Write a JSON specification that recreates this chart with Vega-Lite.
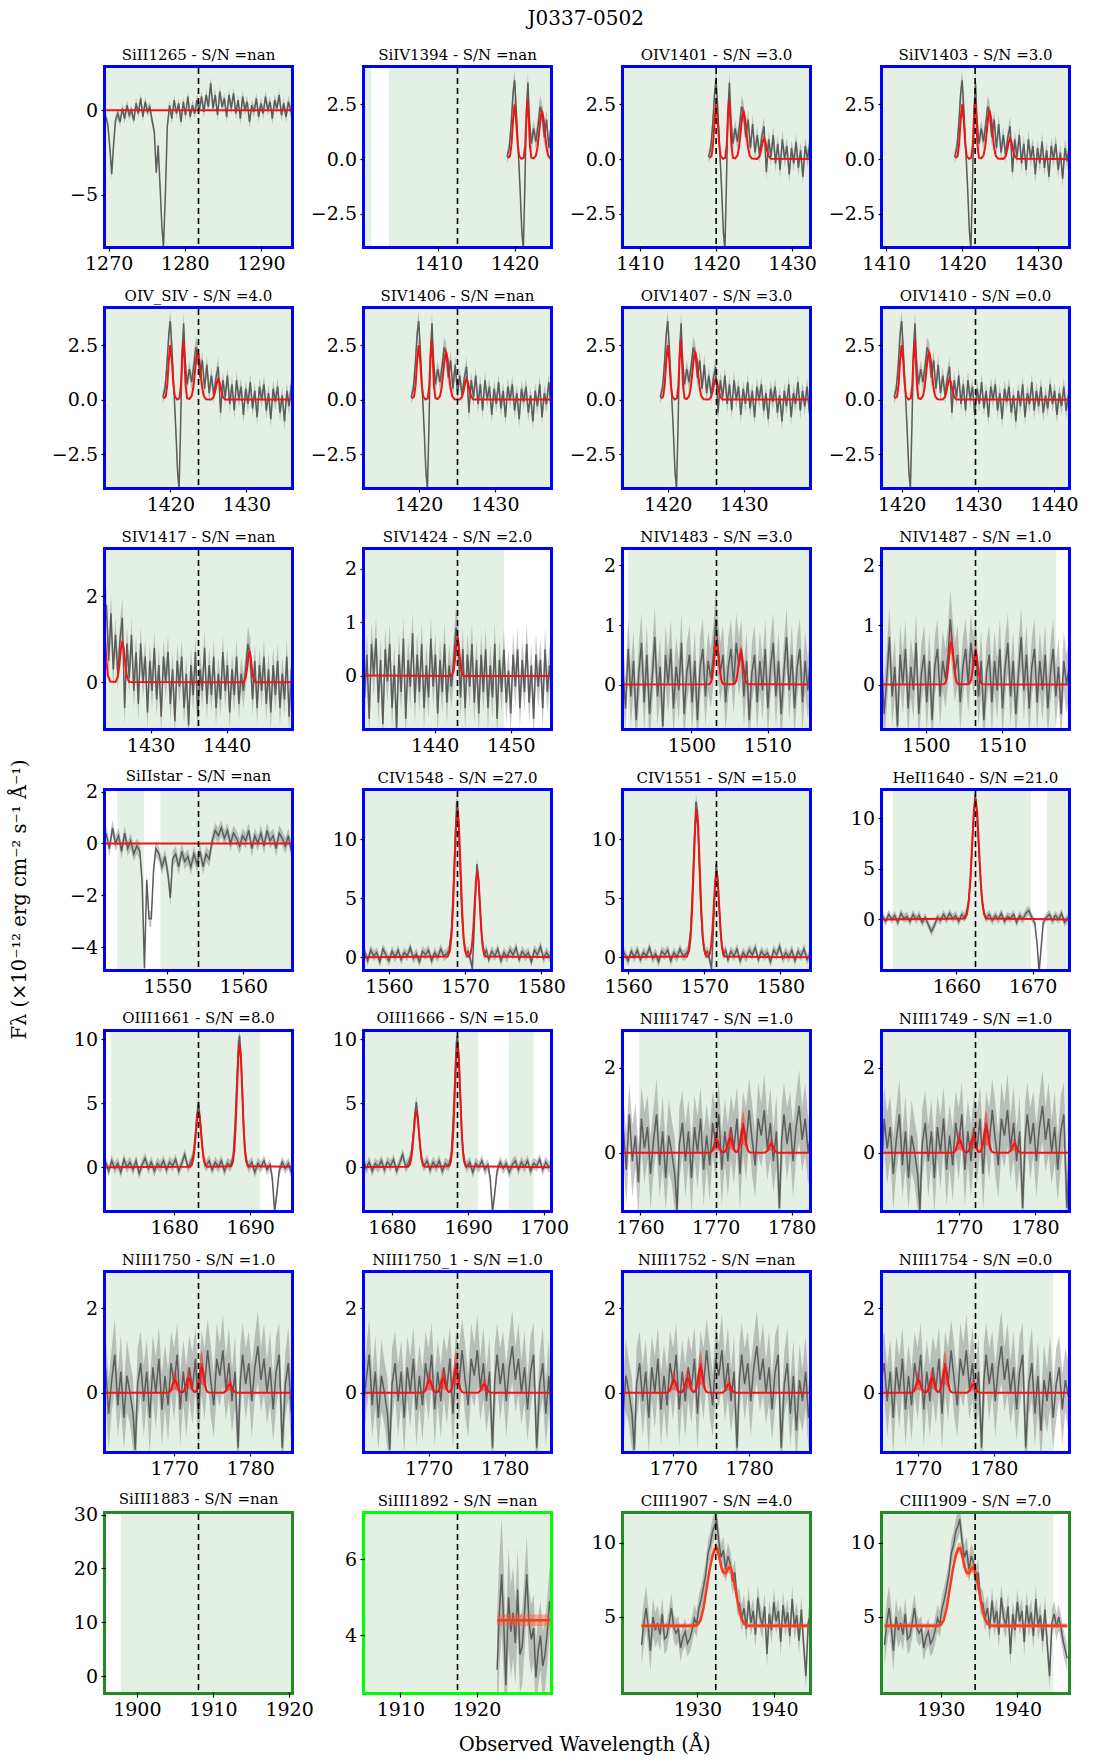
{
"$schema":"https://vega.github.io/schema/vega-lite/v6.json",
"background":"white",
"padding":{"left":10,"top":8,"right":5,"bottom":5},
"title":{"text":"J0337-0502","fontSize":20,"offset":16,"anchor":"middle","dx":40,"frame":"bounds"},
"datasets":{
"d1265":[{"w":1269.65,"f":-0.4,"e":0.3},{"w":1269.9,"f":-0.9,"e":0.3},{"w":1270.15,"f":-2.2,"e":0.3},{"w":1270.4,"f":-3.8,"e":0.3},{"w":1270.65,"f":-2.0,"e":0.3},{"w":1270.9,"f":-0.6,"e":0.3},{"w":1271.2,"f":-0.2,"e":0.3},{"w":1271.5,"f":-0.7,"e":0.3},{"w":1271.8,"f":0.1,"e":0.3},{"w":1272.1,"f":-0.5,"e":0.3},{"w":1272.4,"f":0.3,"e":0.3},{"w":1272.7,"f":-0.3,"e":0.3},{"w":1273.0,"f":0.0,"e":0.3},{"w":1273.3,"f":-0.6,"e":0.3},{"w":1273.6,"f":0.4,"e":0.3},{"w":1273.9,"f":-0.2,"e":0.3},{"w":1274.2,"f":0.7,"e":0.3},{"w":1274.5,"f":-0.4,"e":0.3},{"w":1274.8,"f":0.5,"e":0.3},{"w":1275.1,"f":-0.1,"e":0.3},{"w":1275.4,"f":0.2,"e":0.3},{"w":1275.7,"f":-0.6,"e":0.3},{"w":1276.0,"f":-1.3,"e":0.3},{"w":1276.25,"f":-3.7,"e":0.3},{"w":1276.5,"f":-2.1,"e":0.3},{"w":1276.75,"f":-4.5,"e":0.3},{"w":1277.0,"f":-7.0,"e":0.3},{"w":1277.2,"f":-8.1,"e":0.3},{"w":1277.45,"f":-5.0,"e":0.3},{"w":1277.7,"f":-1.0,"e":0.3},{"w":1278.0,"f":0.3,"e":0.3},{"w":1278.3,"f":-0.5,"e":0.3},{"w":1278.6,"f":0.6,"e":0.3},{"w":1278.9,"f":-0.2,"e":0.3},{"w":1279.2,"f":0.4,"e":0.3},{"w":1279.5,"f":-0.7,"e":0.3},{"w":1279.8,"f":0.5,"e":0.3},{"w":1280.1,"f":-0.3,"e":0.3},{"w":1280.4,"f":0.8,"e":0.3},{"w":1280.7,"f":-0.4,"e":0.3},{"w":1281.0,"f":0.3,"e":0.3},{"w":1281.3,"f":-0.2,"e":0.3},{"w":1281.6,"f":0.6,"e":0.35},{"w":1281.9,"f":0.0,"e":0.35},{"w":1282.2,"f":0.8,"e":0.35},{"w":1282.5,"f":-0.1,"e":0.35},{"w":1282.8,"f":0.9,"e":0.35},{"w":1283.1,"f":0.2,"e":0.35},{"w":1283.4,"f":1.6,"e":0.35},{"w":1283.7,"f":0.1,"e":0.35},{"w":1284.0,"f":0.9,"e":0.35},{"w":1284.3,"f":-0.3,"e":0.35},{"w":1284.6,"f":1.1,"e":0.35},{"w":1284.9,"f":0.2,"e":0.35},{"w":1285.2,"f":0.7,"e":0.35},{"w":1285.5,"f":-0.4,"e":0.35},{"w":1285.8,"f":0.9,"e":0.35},{"w":1286.1,"f":0.1,"e":0.35},{"w":1286.4,"f":1.0,"e":0.35},{"w":1286.7,"f":-0.2,"e":0.35},{"w":1287.0,"f":0.6,"e":0.35},{"w":1287.3,"f":-0.5,"e":0.35},{"w":1287.6,"f":0.8,"e":0.35},{"w":1287.9,"f":0.0,"e":0.35},{"w":1288.2,"f":0.5,"e":0.35},{"w":1288.5,"f":-0.7,"e":0.35},{"w":1288.8,"f":0.3,"e":0.35},{"w":1289.1,"f":-0.1,"e":0.35},{"w":1289.4,"f":0.7,"e":0.35},{"w":1289.7,"f":-0.4,"e":0.35},{"w":1290.0,"f":0.4,"e":0.35},{"w":1290.3,"f":-0.2,"e":0.35},{"w":1290.6,"f":0.8,"e":0.35},{"w":1290.9,"f":0.0,"e":0.35},{"w":1291.2,"f":0.5,"e":0.35},{"w":1291.5,"f":-0.5,"e":0.35},{"w":1291.8,"f":0.6,"e":0.35},{"w":1292.1,"f":0.1,"e":0.35},{"w":1292.4,"f":0.9,"e":0.35},{"w":1292.7,"f":-0.3,"e":0.35},{"w":1293.0,"f":0.4,"e":0.35},{"w":1293.3,"f":-0.4,"e":0.35},{"w":1293.6,"f":0.5,"e":0.35},{"w":1293.95,"f":-0.1,"e":0.35}],
"m1265":[{"w":1269.65,"f":0,"e":0},{"w":1293.95,"f":0,"e":0}],
"d14":[{"w":1419.0,"f":0.1,"e":0.3},{"w":1419.3,"f":0.5,"e":0.35},{"w":1419.55,"f":1.6,"e":0.4},{"w":1419.8,"f":3.0,"e":0.5},{"w":1420.0,"f":3.6,"e":0.5},{"w":1420.2,"f":2.4,"e":0.5},{"w":1420.45,"f":0.6,"e":0.4},{"w":1420.7,"f":-1.2,"e":0.4},{"w":1420.95,"f":-3.3,"e":0.4},{"w":1421.15,"f":-4.1,"e":0.4},{"w":1421.35,"f":-1.2,"e":0.4},{"w":1421.55,"f":2.2,"e":0.5},{"w":1421.75,"f":3.5,"e":0.5},{"w":1421.95,"f":1.8,"e":0.5},{"w":1422.2,"f":0.7,"e":0.4},{"w":1422.5,"f":1.4,"e":0.4},{"w":1422.8,"f":0.8,"e":0.4},{"w":1423.1,"f":1.6,"e":0.45},{"w":1423.35,"f":2.4,"e":0.5},{"w":1423.6,"f":2.1,"e":0.5},{"w":1423.9,"f":1.0,"e":0.45},{"w":1424.2,"f":1.8,"e":0.45},{"w":1424.5,"f":0.5,"e":0.4},{"w":1424.8,"f":1.6,"e":0.45},{"w":1425.1,"f":0.3,"e":0.4},{"w":1425.4,"f":1.1,"e":0.4},{"w":1425.7,"f":0.2,"e":0.4},{"w":1426.0,"f":1.0,"e":0.4},{"w":1426.3,"f":1.5,"e":0.45},{"w":1426.6,"f":-0.6,"e":0.4},{"w":1426.9,"f":0.9,"e":0.4},{"w":1427.2,"f":0.1,"e":0.4},{"w":1427.5,"f":1.1,"e":0.4},{"w":1427.8,"f":-0.2,"e":0.4},{"w":1428.1,"f":0.7,"e":0.4},{"w":1428.4,"f":-0.5,"e":0.4},{"w":1428.7,"f":0.9,"e":0.4},{"w":1429.0,"f":0.0,"e":0.4},{"w":1429.3,"f":0.6,"e":0.4},{"w":1429.6,"f":-0.7,"e":0.4},{"w":1429.9,"f":0.5,"e":0.4},{"w":1430.2,"f":-0.2,"e":0.4},{"w":1430.5,"f":0.8,"e":0.4},{"w":1430.8,"f":-0.4,"e":0.4},{"w":1431.1,"f":0.4,"e":0.4},{"w":1431.4,"f":-0.8,"e":0.4},{"w":1431.7,"f":0.6,"e":0.4},{"w":1432.0,"f":0.0,"e":0.4},{"w":1432.3,"f":0.7,"e":0.4},{"w":1432.6,"f":-0.5,"e":0.4},{"w":1432.9,"f":0.3,"e":0.4},{"w":1433.2,"f":-0.9,"e":0.4},{"w":1433.5,"f":0.5,"e":0.4},{"w":1433.8,"f":-0.1,"e":0.4},{"w":1434.1,"f":0.6,"e":0.4},{"w":1434.4,"f":-0.6,"e":0.4},{"w":1434.7,"f":0.2,"e":0.4},{"w":1435.0,"f":-1.0,"e":0.4},{"w":1435.3,"f":0.4,"e":0.4},{"w":1435.6,"f":-0.3,"e":0.4},{"w":1435.9,"f":0.7,"e":0.4},{"w":1436.2,"f":-0.8,"e":0.4},{"w":1436.5,"f":0.3,"e":0.4},{"w":1436.8,"f":-0.2,"e":0.4},{"w":1437.1,"f":0.8,"e":0.4},{"w":1437.4,"f":-0.5,"e":0.4},{"w":1437.7,"f":0.4,"e":0.4},{"w":1438.0,"f":-0.3,"e":0.4},{"w":1438.3,"f":0.6,"e":0.4},{"w":1438.6,"f":-0.6,"e":0.4},{"w":1438.9,"f":0.2,"e":0.4},{"w":1439.2,"f":-0.4,"e":0.4},{"w":1439.5,"f":0.7,"e":0.4},{"w":1439.8,"f":-0.2,"e":0.4},{"w":1440.1,"f":0.4,"e":0.4},{"w":1440.4,"f":-0.7,"e":0.4},{"w":1440.7,"f":0.3,"e":0.4},{"w":1441.0,"f":-0.3,"e":0.4},{"w":1441.3,"f":0.6,"e":0.4},{"w":1441.6,"f":-0.5,"e":0.4},{"w":1441.9,"f":0.2,"e":0.4},{"w":1442.2,"f":-0.2,"e":0.4},{"w":1442.5,"f":0.3,"e":0.4},{"w":1442.8,"f":0.9,"e":0.4},{"w":1443.1,"f":0.6,"e":0.4},{"w":1443.4,"f":-0.4,"e":0.4},{"w":1443.7,"f":0.5,"e":0.4},{"w":1444.0,"f":-0.6,"e":0.4},{"w":1444.3,"f":0.4,"e":0.4},{"w":1444.6,"f":-0.2,"e":0.4},{"w":1444.9,"f":0.6,"e":0.4},{"w":1445.2,"f":-0.5,"e":0.4},{"w":1445.5,"f":0.3,"e":0.4},{"w":1445.8,"f":-0.7,"e":0.4},{"w":1446.1,"f":0.4,"e":0.4},{"w":1446.4,"f":-0.3,"e":0.4},{"w":1446.7,"f":0.5,"e":0.4},{"w":1447.0,"f":-0.6,"e":0.4},{"w":1447.3,"f":0.2,"e":0.4},{"w":1447.6,"f":-0.4,"e":0.4},{"w":1447.9,"f":0.6,"e":0.4},{"w":1448.2,"f":-0.8,"e":0.4},{"w":1448.5,"f":0.3,"e":0.4},{"w":1448.8,"f":-0.3,"e":0.4},{"w":1449.1,"f":0.5,"e":0.4},{"w":1449.4,"f":-0.5,"e":0.4},{"w":1449.7,"f":0.1,"e":0.4},{"w":1450.0,"f":-0.7,"e":0.4},{"w":1450.3,"f":0.4,"e":0.4},{"w":1450.6,"f":-0.2,"e":0.4},{"w":1450.9,"f":0.5,"e":0.4},{"w":1451.2,"f":-0.6,"e":0.4},{"w":1451.5,"f":0.3,"e":0.4},{"w":1451.8,"f":-0.3,"e":0.4},{"w":1452.1,"f":0.6,"e":0.4},{"w":1452.4,"f":-0.5,"e":0.4},{"w":1452.7,"f":0.2,"e":0.4},{"w":1453.0,"f":-0.8,"e":0.4},{"w":1453.3,"f":0.4,"e":0.4},{"w":1453.6,"f":-0.2,"e":0.4},{"w":1453.9,"f":0.3,"e":0.4},{"w":1454.2,"f":-0.6,"e":0.4},{"w":1454.5,"f":0.5,"e":0.4},{"w":1454.8,"f":-0.3,"e":0.4},{"w":1455.1,"f":0.2,"e":0.4},{"w":1455.4,"f":-0.4,"e":0.4}],
"m14":[{"w":1419.1,"f":0.05,"e":0.02},{"w":1419.4,"f":0.14,"e":0.04},{"w":1419.6,"f":0.7,"e":0.12},{"w":1419.8,"f":1.81,"e":0.25},{"w":1420.0,"f":2.5,"e":0.35},{"w":1420.2,"f":1.81,"e":0.25},{"w":1420.4,"f":0.7,"e":0.12},{"w":1420.6,"f":0.14,"e":0.04},{"w":1420.9,"f":0.01,"e":0.01},{"w":1421.2,"f":0.06,"e":0.02},{"w":1421.4,"f":0.67,"e":0.12},{"w":1421.55,"f":1.91,"e":0.3},{"w":1421.7,"f":2.7,"e":0.45},{"w":1421.85,"f":1.91,"e":0.3},{"w":1422.0,"f":0.67,"e":0.12},{"w":1422.2,"f":0.06,"e":0.02},{"w":1422.5,"f":0.03,"e":0.01},{"w":1422.8,"f":0.16,"e":0.04},{"w":1423.0,"f":0.51,"e":0.08},{"w":1423.2,"f":1.14,"e":0.15},{"w":1423.4,"f":1.87,"e":0.22},{"w":1423.6,"f":2.2,"e":0.25},{"w":1423.8,"f":1.87,"e":0.22},{"w":1424.0,"f":1.14,"e":0.15},{"w":1424.2,"f":0.51,"e":0.08},{"w":1424.4,"f":0.16,"e":0.04},{"w":1424.7,"f":0.02,"e":0.01},{"w":1425.4,"f":0.01,"e":0.01},{"w":1425.7,"f":0.13,"e":0.03},{"w":1425.9,"f":0.39,"e":0.06},{"w":1426.1,"f":0.76,"e":0.1},{"w":1426.3,"f":0.95,"e":0.12},{"w":1426.5,"f":0.76,"e":0.1},{"w":1426.7,"f":0.39,"e":0.06},{"w":1426.9,"f":0.13,"e":0.03},{"w":1427.2,"f":0.01,"e":0.01},{"w":1442.2,"f":0.0,"e":0.0},{"w":1442.5,"f":0.1,"e":0.03},{"w":1442.7,"f":0.35,"e":0.07},{"w":1442.85,"f":0.6,"e":0.1},{"w":1443.0,"f":0.72,"e":0.12},{"w":1443.15,"f":0.6,"e":0.1},{"w":1443.3,"f":0.35,"e":0.07},{"w":1443.5,"f":0.1,"e":0.03},{"w":1443.8,"f":0.0,"e":0.0},{"w":1455.4,"f":0.0,"e":0.0}],
"d15":[{"w":1491.0,"f":0.3,"e":0.5},{"w":1491.35,"f":-0.4,"e":0.5},{"w":1491.7,"f":0.6,"e":0.5},{"w":1492.05,"f":-0.2,"e":0.5},{"w":1492.4,"f":0.4,"e":0.5},{"w":1492.75,"f":-0.6,"e":0.5},{"w":1493.1,"f":0.2,"e":0.5},{"w":1493.45,"f":0.7,"e":0.5},{"w":1493.8,"f":-0.3,"e":0.5},{"w":1494.15,"f":0.5,"e":0.5},{"w":1494.5,"f":-0.5,"e":0.5},{"w":1494.85,"f":0.1,"e":0.5},{"w":1495.2,"f":0.8,"e":0.5},{"w":1495.55,"f":-0.2,"e":0.5},{"w":1495.9,"f":0.3,"e":0.5},{"w":1496.25,"f":-0.7,"e":0.5},{"w":1496.6,"f":0.5,"e":0.5},{"w":1496.95,"f":0.0,"e":0.5},{"w":1497.3,"f":0.6,"e":0.5},{"w":1497.65,"f":-0.4,"e":0.5},{"w":1498.0,"f":0.3,"e":0.5},{"w":1498.35,"f":-0.1,"e":0.5},{"w":1498.7,"f":0.7,"e":0.5},{"w":1499.05,"f":-0.5,"e":0.5},{"w":1499.4,"f":0.2,"e":0.5},{"w":1499.75,"f":0.5,"e":0.5},{"w":1500.1,"f":-0.3,"e":0.5},{"w":1500.45,"f":0.4,"e":0.5},{"w":1500.8,"f":-0.6,"e":0.5},{"w":1501.15,"f":0.3,"e":0.5},{"w":1501.5,"f":0.6,"e":0.5},{"w":1501.85,"f":-0.2,"e":0.5},{"w":1502.2,"f":0.4,"e":0.5},{"w":1502.55,"f":0.1,"e":0.5},{"w":1502.9,"f":0.5,"e":0.5},{"w":1503.2,"f":1.1,"e":0.5},{"w":1503.5,"f":0.6,"e":0.5},{"w":1503.8,"f":0.2,"e":0.5},{"w":1504.15,"f":0.5,"e":0.5},{"w":1504.5,"f":-0.3,"e":0.5},{"w":1504.85,"f":0.3,"e":0.5},{"w":1505.2,"f":0.6,"e":0.5},{"w":1505.55,"f":0.0,"e":0.5},{"w":1505.9,"f":0.7,"e":0.5},{"w":1506.25,"f":0.3,"e":0.5},{"w":1506.55,"f":0.6,"e":0.5},{"w":1506.9,"f":-0.2,"e":0.5},{"w":1507.25,"f":0.4,"e":0.5},{"w":1507.6,"f":-0.6,"e":0.5},{"w":1507.95,"f":0.2,"e":0.5},{"w":1508.3,"f":0.5,"e":0.5},{"w":1508.65,"f":-0.3,"e":0.5},{"w":1509.0,"f":0.4,"e":0.5},{"w":1509.35,"f":-0.1,"e":0.5},{"w":1509.7,"f":0.6,"e":0.5},{"w":1510.05,"f":-0.4,"e":0.5},{"w":1510.4,"f":0.3,"e":0.5},{"w":1510.75,"f":0.7,"e":0.5},{"w":1511.1,"f":-0.2,"e":0.5},{"w":1511.45,"f":0.4,"e":0.5},{"w":1511.8,"f":-0.5,"e":0.5},{"w":1512.15,"f":0.2,"e":0.5},{"w":1512.5,"f":0.8,"e":0.5},{"w":1512.85,"f":-0.1,"e":0.5},{"w":1513.2,"f":0.5,"e":0.5},{"w":1513.55,"f":-0.4,"e":0.5},{"w":1513.9,"f":0.3,"e":0.5},{"w":1514.25,"f":0.6,"e":0.5},{"w":1514.6,"f":-0.3,"e":0.5},{"w":1514.95,"f":0.4,"e":0.5},{"w":1515.3,"f":-0.1,"e":0.5},{"w":1515.65,"f":0.5,"e":0.5},{"w":1516.0,"f":-0.4,"e":0.5},{"w":1516.35,"f":0.2,"e":0.5},{"w":1516.7,"f":0.6,"e":0.5},{"w":1517.05,"f":-0.2,"e":0.5},{"w":1517.4,"f":0.3,"e":0.5},{"w":1517.75,"f":-0.5,"e":0.5},{"w":1518.1,"f":0.4,"e":0.5},{"w":1518.45,"f":0.0,"e":0.5},{"w":1518.8,"f":0.3,"e":0.5}],
"m15":[{"w":1491.0,"f":0,"e":0},{"w":1502.35,"f":0.005,"e":0.002},{"w":1502.55,"f":0.032,"e":0.01},{"w":1502.7,"f":0.097,"e":0.03},{"w":1502.85,"f":0.234,"e":0.06},{"w":1503.0,"f":0.437,"e":0.11},{"w":1503.15,"f":0.635,"e":0.16},{"w":1503.3,"f":0.72,"e":0.18},{"w":1503.45,"f":0.635,"e":0.16},{"w":1503.6,"f":0.437,"e":0.11},{"w":1503.75,"f":0.234,"e":0.06},{"w":1503.9,"f":0.097,"e":0.03},{"w":1504.05,"f":0.032,"e":0.01},{"w":1504.25,"f":0.005,"e":0.002},{"w":1505.55,"f":0.004,"e":0.002},{"w":1505.75,"f":0.024,"e":0.008},{"w":1505.9,"f":0.074,"e":0.02},{"w":1506.05,"f":0.179,"e":0.05},{"w":1506.2,"f":0.334,"e":0.09},{"w":1506.35,"f":0.485,"e":0.12},{"w":1506.5,"f":0.55,"e":0.14},{"w":1506.65,"f":0.485,"e":0.12},{"w":1506.8,"f":0.334,"e":0.09},{"w":1506.95,"f":0.179,"e":0.05},{"w":1507.1,"f":0.074,"e":0.02},{"w":1507.25,"f":0.024,"e":0.008},{"w":1507.45,"f":0.004,"e":0.002},{"w":1518.8,"f":0,"e":0}],
"d155":[{"w":1541.95,"f":0.4,"e":0.3},{"w":1542.4,"f":-0.2,"e":0.3},{"w":1542.8,"f":0.6,"e":0.3},{"w":1543.2,"f":0.0,"e":0.3},{"w":1543.6,"f":0.3,"e":0.3},{"w":1544.0,"f":-0.3,"e":0.3},{"w":1544.4,"f":0.4,"e":0.3},{"w":1544.8,"f":-0.2,"e":0.3},{"w":1545.2,"f":0.1,"e":0.3},{"w":1545.6,"f":-0.4,"e":0.3},{"w":1546.0,"f":-0.1,"e":0.3},{"w":1546.4,"f":-0.3,"e":0.3},{"w":1546.7,"f":-1.5,"e":0.3},{"w":1547.0,"f":-4.8,"e":0.3},{"w":1547.3,"f":-1.4,"e":0.3},{"w":1547.6,"f":-2.9,"e":0.3},{"w":1547.9,"f":-2.9,"e":0.3},{"w":1548.2,"f":-1.0,"e":0.3},{"w":1548.5,"f":-0.2,"e":0.3},{"w":1548.9,"f":-0.4,"e":0.3},{"w":1549.3,"f":-0.9,"e":0.3},{"w":1549.7,"f":-0.5,"e":0.3},{"w":1550.1,"f":-1.2,"e":0.3},{"w":1550.4,"f":-2.1,"e":0.3},{"w":1550.7,"f":-0.6,"e":0.3},{"w":1551.1,"f":-0.4,"e":0.3},{"w":1551.5,"f":-0.9,"e":0.3},{"w":1551.9,"f":-0.3,"e":0.3},{"w":1552.3,"f":-0.7,"e":0.3},{"w":1552.7,"f":-0.5,"e":0.3},{"w":1553.1,"f":-0.9,"e":0.3},{"w":1553.5,"f":-0.4,"e":0.3},{"w":1553.9,"f":-0.8,"e":0.3},{"w":1554.3,"f":-0.3,"e":0.3},{"w":1554.7,"f":-0.9,"e":0.3},{"w":1555.1,"f":-0.4,"e":0.3},{"w":1555.5,"f":-0.6,"e":0.3},{"w":1555.9,"f":0.1,"e":0.3},{"w":1556.3,"f":0.5,"e":0.3},{"w":1556.7,"f":0.3,"e":0.3},{"w":1557.1,"f":0.6,"e":0.3},{"w":1557.5,"f":0.2,"e":0.3},{"w":1557.9,"f":0.5,"e":0.3},{"w":1558.3,"f":0.0,"e":0.3},{"w":1558.7,"f":0.4,"e":0.3},{"w":1559.1,"f":0.2,"e":0.3},{"w":1559.5,"f":-0.1,"e":0.3},{"w":1559.9,"f":0.3,"e":0.3},{"w":1560.3,"f":0.1,"e":0.3},{"w":1560.7,"f":0.5,"e":0.3},{"w":1561.1,"f":-0.2,"e":0.3},{"w":1561.5,"f":0.3,"e":0.3},{"w":1561.9,"f":0.0,"e":0.3},{"w":1562.3,"f":0.4,"e":0.3},{"w":1562.7,"f":-0.1,"e":0.3},{"w":1563.1,"f":0.5,"e":0.3},{"w":1563.5,"f":0.1,"e":0.3},{"w":1563.9,"f":0.3,"e":0.3},{"w":1564.3,"f":-0.2,"e":0.3},{"w":1564.7,"f":0.4,"e":0.3},{"w":1565.1,"f":0.2,"e":0.3},{"w":1565.5,"f":-0.1,"e":0.3},{"w":1565.9,"f":0.3,"e":0.3},{"w":1566.3,"f":-0.3,"e":0.3}],
"m155":[{"w":1541.95,"f":0,"e":0},{"w":1566.3,"f":0,"e":0}],
"d157":[{"w":1556.8,"f":0.5,"e":0.45},{"w":1557.2,"f":-0.3,"e":0.45},{"w":1557.6,"f":0.6,"e":0.45},{"w":1558.0,"f":0.1,"e":0.45},{"w":1558.4,"f":0.4,"e":0.45},{"w":1558.8,"f":-0.4,"e":0.45},{"w":1559.2,"f":0.7,"e":0.45},{"w":1559.6,"f":0.2,"e":0.45},{"w":1560.0,"f":-0.3,"e":0.45},{"w":1560.4,"f":0.5,"e":0.45},{"w":1560.8,"f":0.0,"e":0.45},{"w":1561.2,"f":0.6,"e":0.45},{"w":1561.6,"f":-0.2,"e":0.45},{"w":1562.0,"f":0.4,"e":0.45},{"w":1562.4,"f":0.1,"e":0.45},{"w":1562.8,"f":0.8,"e":0.45},{"w":1563.2,"f":-0.1,"e":0.45},{"w":1563.6,"f":0.3,"e":0.45},{"w":1564.0,"f":-0.4,"e":0.45},{"w":1564.4,"f":0.5,"e":0.45},{"w":1564.8,"f":0.2,"e":0.45},{"w":1565.2,"f":0.6,"e":0.45},{"w":1565.6,"f":-0.3,"e":0.45},{"w":1566.0,"f":0.4,"e":0.45},{"w":1566.4,"f":0.0,"e":0.45},{"w":1566.8,"f":0.7,"e":0.45},{"w":1567.2,"f":0.1,"e":0.45},{"w":1567.6,"f":0.3,"e":0.45},{"w":1567.9,"f":0.6,"e":0.5},{"w":1568.2,"f":2.2,"e":0.6},{"w":1568.45,"f":5.8,"e":0.6},{"w":1568.7,"f":10.2,"e":0.6},{"w":1568.9,"f":13.2,"e":0.6},{"w":1569.1,"f":12.4,"e":0.6},{"w":1569.3,"f":8.6,"e":0.6},{"w":1569.55,"f":4.0,"e":0.6},{"w":1569.8,"f":1.5,"e":0.5},{"w":1570.1,"f":0.3,"e":0.45},{"w":1570.4,"f":0.5,"e":0.45},{"w":1570.7,"f":-0.2,"e":0.45},{"w":1570.95,"f":-1.0,"e":0.5},{"w":1571.15,"f":1.8,"e":0.6},{"w":1571.35,"f":5.0,"e":0.6},{"w":1571.55,"f":7.9,"e":0.6},{"w":1571.75,"f":6.8,"e":0.6},{"w":1571.95,"f":4.2,"e":0.6},{"w":1572.2,"f":1.6,"e":0.5},{"w":1572.5,"f":0.2,"e":0.45},{"w":1572.8,"f":0.6,"e":0.45},{"w":1573.1,"f":-0.2,"e":0.45},{"w":1573.5,"f":0.5,"e":0.45},{"w":1573.9,"f":0.1,"e":0.45},{"w":1574.3,"f":0.7,"e":0.45},{"w":1574.7,"f":-0.3,"e":0.45},{"w":1575.1,"f":0.4,"e":0.45},{"w":1575.5,"f":0.0,"e":0.45},{"w":1575.9,"f":0.6,"e":0.45},{"w":1576.3,"f":0.2,"e":0.45},{"w":1576.7,"f":0.8,"e":0.45},{"w":1577.1,"f":-0.2,"e":0.45},{"w":1577.5,"f":0.5,"e":0.45},{"w":1577.9,"f":0.1,"e":0.45},{"w":1578.3,"f":0.4,"e":0.45},{"w":1578.7,"f":-0.4,"e":0.45},{"w":1579.1,"f":0.6,"e":0.45},{"w":1579.5,"f":0.2,"e":0.45},{"w":1579.9,"f":0.9,"e":0.45},{"w":1580.3,"f":-0.1,"e":0.45},{"w":1580.7,"f":0.4,"e":0.45},{"w":1581.1,"f":0.0,"e":0.45},{"w":1581.5,"f":0.6,"e":0.45},{"w":1581.9,"f":-0.3,"e":0.45},{"w":1582.3,"f":0.5,"e":0.45},{"w":1582.7,"f":0.1,"e":0.45},{"w":1583.1,"f":0.7,"e":0.45},{"w":1583.5,"f":-0.2,"e":0.45},{"w":1583.9,"f":0.3,"e":0.45}],
"m157":[{"w":1556.8,"f":0,"e":0},{"w":1567.7,"f":0.06,"e":0.01},{"w":1568.0,"f":0.55,"e":0.05},{"w":1568.2,"f":1.69,"e":0.1},{"w":1568.4,"f":4.06,"e":0.2},{"w":1568.6,"f":7.58,"e":0.35},{"w":1568.8,"f":11.03,"e":0.45},{"w":1569.0,"f":12.5,"e":0.5},{"w":1569.2,"f":11.03,"e":0.45},{"w":1569.4,"f":7.58,"e":0.35},{"w":1569.6,"f":4.06,"e":0.2},{"w":1569.8,"f":1.69,"e":0.1},{"w":1570.0,"f":0.55,"e":0.05},{"w":1570.3,"f":0.06,"e":0.01},{"w":1570.5,"f":0.05,"e":0.01},{"w":1570.725,"f":0.32,"e":0.03},{"w":1570.9,"f":0.99,"e":0.06},{"w":1571.075,"f":2.37,"e":0.12},{"w":1571.25,"f":4.43,"e":0.2},{"w":1571.425,"f":6.44,"e":0.28},{"w":1571.6,"f":7.3,"e":0.32},{"w":1571.775,"f":6.44,"e":0.28},{"w":1571.95,"f":4.43,"e":0.2},{"w":1572.125,"f":2.37,"e":0.12},{"w":1572.3,"f":0.99,"e":0.06},{"w":1572.475,"f":0.32,"e":0.03},{"w":1572.7,"f":0.05,"e":0.01},{"w":1584.0,"f":0,"e":0}],
"d166":[{"w":1650.3,"f":0.3,"e":0.45},{"w":1650.7,"f":-0.2,"e":0.45},{"w":1651.1,"f":0.5,"e":0.45},{"w":1651.5,"f":0.0,"e":0.45},{"w":1651.9,"f":0.4,"e":0.45},{"w":1652.3,"f":-0.3,"e":0.45},{"w":1652.7,"f":0.6,"e":0.45},{"w":1653.1,"f":0.1,"e":0.45},{"w":1653.5,"f":0.3,"e":0.45},{"w":1653.9,"f":-0.2,"e":0.45},{"w":1654.3,"f":0.5,"e":0.45},{"w":1654.7,"f":0.0,"e":0.45},{"w":1655.1,"f":0.4,"e":0.45},{"w":1655.5,"f":-0.3,"e":0.45},{"w":1655.9,"f":0.2,"e":0.45},{"w":1656.3,"f":-0.5,"e":0.45},{"w":1656.7,"f":-1.2,"e":0.45},{"w":1657.1,"f":-0.6,"e":0.45},{"w":1657.5,"f":0.2,"e":0.45},{"w":1657.9,"f":-0.1,"e":0.45},{"w":1658.3,"f":0.5,"e":0.45},{"w":1658.7,"f":0.0,"e":0.45},{"w":1659.1,"f":0.6,"e":0.45},{"w":1659.5,"f":0.1,"e":0.45},{"w":1659.9,"f":0.4,"e":0.45},{"w":1660.3,"f":-0.2,"e":0.45},{"w":1660.7,"f":0.5,"e":0.45},{"w":1661.0,"f":0.2,"e":0.45},{"w":1661.3,"f":0.6,"e":0.5},{"w":1661.6,"f":1.9,"e":0.5},{"w":1661.9,"f":4.6,"e":0.5},{"w":1662.2,"f":9.5,"e":0.5},{"w":1662.45,"f":12.4,"e":0.5},{"w":1662.7,"f":10.4,"e":0.5},{"w":1663.0,"f":6.0,"e":0.5},{"w":1663.3,"f":2.4,"e":0.5},{"w":1663.6,"f":0.7,"e":0.5},{"w":1663.9,"f":0.1,"e":0.45},{"w":1664.3,"f":0.5,"e":0.45},{"w":1664.7,"f":-0.1,"e":0.45},{"w":1665.1,"f":0.4,"e":0.45},{"w":1665.5,"f":0.0,"e":0.45},{"w":1665.9,"f":0.6,"e":0.45},{"w":1666.3,"f":-0.2,"e":0.45},{"w":1666.7,"f":0.3,"e":0.45},{"w":1667.1,"f":0.1,"e":0.45},{"w":1667.5,"f":0.5,"e":0.45},{"w":1667.9,"f":-0.3,"e":0.45},{"w":1668.3,"f":0.4,"e":0.45},{"w":1668.7,"f":0.0,"e":0.45},{"w":1669.1,"f":0.6,"e":0.45},{"w":1669.5,"f":0.9,"e":0.45},{"w":1669.9,"f":0.2,"e":0.45},{"w":1670.3,"f":-0.4,"e":0.45},{"w":1670.6,"f":-2.5,"e":0.45},{"w":1670.85,"f":-5.2,"e":0.45},{"w":1671.1,"f":-3.0,"e":0.45},{"w":1671.4,"f":-0.3,"e":0.45},{"w":1671.8,"f":0.2,"e":0.45},{"w":1672.2,"f":0.5,"e":0.45},{"w":1672.6,"f":-0.1,"e":0.45},{"w":1673.0,"f":0.4,"e":0.45},{"w":1673.4,"f":0.0,"e":0.45},{"w":1673.8,"f":0.6,"e":0.45},{"w":1674.2,"f":-0.3,"e":0.45},{"w":1674.7,"f":0.2,"e":0.45}],
"m166":[{"w":1650.3,"f":0,"e":0},{"w":1661.1,"f":0.09,"e":0.01},{"w":1661.375,"f":0.53,"e":0.04},{"w":1661.6,"f":1.62,"e":0.08},{"w":1661.825,"f":3.9,"e":0.15},{"w":1662.05,"f":7.28,"e":0.25},{"w":1662.275,"f":10.59,"e":0.32},{"w":1662.5,"f":12.0,"e":0.35},{"w":1662.725,"f":10.59,"e":0.32},{"w":1662.95,"f":7.28,"e":0.25},{"w":1663.175,"f":3.9,"e":0.15},{"w":1663.4,"f":1.62,"e":0.08},{"w":1663.625,"f":0.53,"e":0.04},{"w":1663.9,"f":0.09,"e":0.01},{"w":1674.7,"f":0,"e":0}],
"d168":[{"w":1671.0,"f":0.4,"e":0.45},{"w":1671.4,"f":-0.3,"e":0.45},{"w":1671.8,"f":0.5,"e":0.45},{"w":1672.2,"f":-0.1,"e":0.45},{"w":1672.6,"f":0.3,"e":0.45},{"w":1673.0,"f":-0.4,"e":0.45},{"w":1673.4,"f":0.6,"e":0.45},{"w":1673.8,"f":0.0,"e":0.45},{"w":1674.2,"f":0.4,"e":0.45},{"w":1674.6,"f":-0.2,"e":0.45},{"w":1675.0,"f":0.5,"e":0.45},{"w":1675.4,"f":-0.5,"e":0.45},{"w":1675.8,"f":0.2,"e":0.45},{"w":1676.2,"f":0.7,"e":0.45},{"w":1676.6,"f":-0.1,"e":0.45},{"w":1677.0,"f":0.4,"e":0.45},{"w":1677.4,"f":-0.3,"e":0.45},{"w":1677.8,"f":0.3,"e":0.45},{"w":1678.2,"f":0.0,"e":0.45},{"w":1678.6,"f":0.5,"e":0.45},{"w":1679.0,"f":-0.2,"e":0.45},{"w":1679.4,"f":0.4,"e":0.45},{"w":1679.8,"f":0.1,"e":0.45},{"w":1680.2,"f":0.6,"e":0.45},{"w":1680.6,"f":-0.3,"e":0.45},{"w":1681.0,"f":0.3,"e":0.45},{"w":1681.4,"f":1.0,"e":0.45},{"w":1681.8,"f":0.0,"e":0.45},{"w":1682.2,"f":0.4,"e":0.45},{"w":1682.5,"f":0.9,"e":0.5},{"w":1682.8,"f":2.6,"e":0.5},{"w":1683.0,"f":4.2,"e":0.5},{"w":1683.2,"f":5.1,"e":0.5},{"w":1683.4,"f":3.9,"e":0.5},{"w":1683.6,"f":2.2,"e":0.5},{"w":1683.9,"f":0.5,"e":0.45},{"w":1684.2,"f":0.1,"e":0.45},{"w":1684.6,"f":0.5,"e":0.45},{"w":1685.0,"f":-0.2,"e":0.45},{"w":1685.4,"f":0.4,"e":0.45},{"w":1685.8,"f":0.0,"e":0.45},{"w":1686.2,"f":0.5,"e":0.45},{"w":1686.6,"f":-0.3,"e":0.45},{"w":1687.0,"f":0.3,"e":0.45},{"w":1687.4,"f":0.1,"e":0.45},{"w":1687.75,"f":0.8,"e":0.5},{"w":1688.0,"f":3.3,"e":0.5},{"w":1688.25,"f":6.9,"e":0.5},{"w":1688.45,"f":9.8,"e":0.5},{"w":1688.6,"f":10.3,"e":0.5},{"w":1688.8,"f":8.4,"e":0.5},{"w":1689.0,"f":5.2,"e":0.5},{"w":1689.2,"f":2.2,"e":0.5},{"w":1689.45,"f":0.6,"e":0.45},{"w":1689.8,"f":0.0,"e":0.45},{"w":1690.2,"f":0.4,"e":0.45},{"w":1690.6,"f":-0.4,"e":0.45},{"w":1691.0,"f":0.3,"e":0.45},{"w":1691.4,"f":0.0,"e":0.45},{"w":1691.8,"f":0.5,"e":0.45},{"w":1692.2,"f":-0.2,"e":0.45},{"w":1692.6,"f":0.2,"e":0.45},{"w":1692.9,"f":-0.9,"e":0.45},{"w":1693.2,"f":-3.5,"e":0.45},{"w":1693.5,"f":-2.0,"e":0.45},{"w":1693.8,"f":-0.3,"e":0.45},{"w":1694.2,"f":0.4,"e":0.45},{"w":1694.6,"f":-0.1,"e":0.45},{"w":1695.0,"f":0.3,"e":0.45},{"w":1695.4,"f":-0.4,"e":0.45},{"w":1695.8,"f":0.2,"e":0.45},{"w":1696.2,"f":0.5,"e":0.45},{"w":1696.6,"f":-0.2,"e":0.45},{"w":1697.0,"f":0.4,"e":0.45},{"w":1697.4,"f":0.0,"e":0.45},{"w":1697.8,"f":0.5,"e":0.45},{"w":1698.2,"f":-0.3,"e":0.45},{"w":1698.6,"f":0.3,"e":0.45},{"w":1699.0,"f":0.1,"e":0.45},{"w":1699.4,"f":0.6,"e":0.45},{"w":1699.8,"f":-0.2,"e":0.45},{"w":1700.2,"f":0.4,"e":0.45},{"w":1700.6,"f":0.0,"e":0.45},{"w":1701.0,"f":0.3,"e":0.45}],
"m168":[{"w":1671.0,"f":0,"e":0},{"w":1682.1,"f":0.03,"e":0.005},{"w":1682.325,"f":0.19,"e":0.02},{"w":1682.5,"f":0.6,"e":0.05},{"w":1682.675,"f":1.43,"e":0.1},{"w":1682.85,"f":2.67,"e":0.16},{"w":1683.025,"f":3.88,"e":0.2},{"w":1683.2,"f":4.4,"e":0.22},{"w":1683.375,"f":3.88,"e":0.2},{"w":1683.55,"f":2.67,"e":0.16},{"w":1683.725,"f":1.43,"e":0.1},{"w":1683.9,"f":0.6,"e":0.05},{"w":1684.075,"f":0.19,"e":0.02},{"w":1684.3,"f":0.03,"e":0.005},{"w":1687.5,"f":0.07,"e":0.01},{"w":1687.725,"f":0.43,"e":0.03},{"w":1687.9,"f":1.31,"e":0.08},{"w":1688.075,"f":3.15,"e":0.15},{"w":1688.25,"f":5.88,"e":0.25},{"w":1688.425,"f":8.56,"e":0.32},{"w":1688.6,"f":9.7,"e":0.35},{"w":1688.775,"f":8.56,"e":0.32},{"w":1688.95,"f":5.88,"e":0.25},{"w":1689.125,"f":3.15,"e":0.15},{"w":1689.3,"f":1.31,"e":0.08},{"w":1689.475,"f":0.43,"e":0.03},{"w":1689.7,"f":0.07,"e":0.01},{"w":1701.0,"f":0,"e":0}],
"d177":[{"w":1757.8,"f":0.6,"e":0.75},{"w":1758.2,"f":-0.4,"e":0.85},{"w":1758.6,"f":0.9,"e":0.75},{"w":1759.0,"f":-0.2,"e":0.85},{"w":1759.4,"f":0.4,"e":0.75},{"w":1759.8,"f":-0.7,"e":0.85},{"w":1760.2,"f":0.8,"e":0.75},{"w":1760.6,"f":0.1,"e":0.85},{"w":1761.0,"f":0.6,"e":0.75},{"w":1761.4,"f":-0.5,"e":0.85},{"w":1761.8,"f":0.3,"e":0.75},{"w":1762.2,"f":0.9,"e":0.85},{"w":1762.6,"f":-0.3,"e":0.75},{"w":1763.0,"f":0.5,"e":0.85},{"w":1763.4,"f":-0.6,"e":0.75},{"w":1763.8,"f":0.4,"e":0.85},{"w":1764.2,"f":0.0,"e":0.75},{"w":1764.6,"f":-0.5,"e":0.85},{"w":1764.9,"f":-1.35,"e":0.75},{"w":1765.2,"f":0.2,"e":0.85},{"w":1765.6,"f":0.7,"e":0.75},{"w":1766.0,"f":-0.2,"e":0.85},{"w":1766.4,"f":0.5,"e":0.75},{"w":1766.8,"f":-0.6,"e":0.85},{"w":1767.2,"f":0.6,"e":0.75},{"w":1767.6,"f":0.0,"e":0.85},{"w":1768.0,"f":0.8,"e":0.75},{"w":1768.4,"f":-0.4,"e":0.85},{"w":1768.8,"f":0.4,"e":0.75},{"w":1769.2,"f":-0.3,"e":0.85},{"w":1769.6,"f":0.7,"e":0.75},{"w":1770.0,"f":0.2,"e":0.85},{"w":1770.4,"f":0.9,"e":0.75},{"w":1770.8,"f":-0.4,"e":0.85},{"w":1771.2,"f":0.5,"e":0.75},{"w":1771.6,"f":-0.2,"e":0.85},{"w":1772.0,"f":0.6,"e":0.75},{"w":1772.4,"f":0.1,"e":0.85},{"w":1772.8,"f":0.8,"e":0.75},{"w":1773.2,"f":-0.5,"e":0.85},{"w":1773.6,"f":0.7,"e":0.75},{"w":1774.0,"f":0.2,"e":0.85},{"w":1774.4,"f":1.0,"e":0.75},{"w":1774.8,"f":0.3,"e":0.85},{"w":1775.2,"f":-0.3,"e":0.75},{"w":1775.6,"f":0.8,"e":0.85},{"w":1776.0,"f":0.4,"e":0.75},{"w":1776.4,"f":1.0,"e":0.85},{"w":1776.8,"f":0.1,"e":0.75},{"w":1777.2,"f":0.7,"e":0.85},{"w":1777.6,"f":-0.2,"e":0.75},{"w":1778.0,"f":0.5,"e":0.85},{"w":1778.4,"f":-1.3,"e":0.75},{"w":1778.7,"f":0.3,"e":0.85},{"w":1779.0,"f":0.9,"e":0.75},{"w":1779.4,"f":0.2,"e":0.85},{"w":1779.8,"f":0.7,"e":0.75},{"w":1780.2,"f":-0.2,"e":0.85},{"w":1780.6,"f":0.6,"e":0.75},{"w":1781.0,"f":1.1,"e":0.85},{"w":1781.4,"f":0.3,"e":0.75},{"w":1781.8,"f":0.8,"e":0.85},{"w":1782.2,"f":0.0,"e":0.75},{"w":1782.6,"f":0.6,"e":0.85},{"w":1783.0,"f":-0.4,"e":0.75},{"w":1783.4,"f":0.5,"e":0.85},{"w":1783.8,"f":0.9,"e":0.75},{"w":1784.2,"f":-1.3,"e":0.85},{"w":1784.6,"f":0.2,"e":0.75},{"w":1785.0,"f":0.7,"e":0.85},{"w":1785.4,"f":-0.5,"e":0.75},{"w":1785.8,"f":0.4,"e":0.85},{"w":1786.2,"f":-0.9,"e":0.75},{"w":1786.6,"f":0.3,"e":0.85},{"w":1787.0,"f":-0.2,"e":0.75},{"w":1787.4,"f":0.5,"e":0.85},{"w":1787.8,"f":-0.6,"e":0.75},{"w":1788.2,"f":0.2,"e":0.85},{"w":1788.6,"f":0.6,"e":0.75},{"w":1789.0,"f":-0.4,"e":0.85},{"w":1789.4,"f":0.3,"e":0.75},{"w":1789.8,"f":-0.1,"e":0.85}],
"m177":[{"w":1757.8,"f":0,"e":0},{"w":1769.2,"f":0,"e":0},{"w":1769.35,"f":0.013,"e":0.01},{"w":1769.5,"f":0.041,"e":0.031},{"w":1769.65,"f":0.097,"e":0.075},{"w":1769.8,"f":0.182,"e":0.139},{"w":1769.95,"f":0.265,"e":0.203},{"w":1770.1,"f":0.3,"e":0.23},{"w":1770.25,"f":0.265,"e":0.203},{"w":1770.4,"f":0.182,"e":0.139},{"w":1770.55,"f":0.097,"e":0.075},{"w":1770.7,"f":0.041,"e":0.031},{"w":1770.85,"f":0.013,"e":0.01},{"w":1771.0,"f":0.006,"e":0.004},{"w":1771.15,"f":0.015,"e":0.011},{"w":1771.3,"f":0.047,"e":0.034},{"w":1771.45,"f":0.114,"e":0.081},{"w":1771.6,"f":0.212,"e":0.152},{"w":1771.75,"f":0.309,"e":0.221},{"w":1771.9,"f":0.35,"e":0.25},{"w":1772.05,"f":0.309,"e":0.221},{"w":1772.2,"f":0.212,"e":0.152},{"w":1772.35,"f":0.114,"e":0.081},{"w":1772.5,"f":0.047,"e":0.034},{"w":1772.65,"f":0.019,"e":0.015},{"w":1772.85,"f":0.026,"e":0.018},{"w":1773.0,"f":0.081,"e":0.054},{"w":1773.15,"f":0.195,"e":0.13},{"w":1773.3,"f":0.364,"e":0.243},{"w":1773.45,"f":0.53,"e":0.353},{"w":1773.6,"f":0.6,"e":0.4},{"w":1773.75,"f":0.53,"e":0.353},{"w":1773.9,"f":0.364,"e":0.243},{"w":1774.05,"f":0.195,"e":0.13},{"w":1774.2,"f":0.081,"e":0.054},{"w":1774.35,"f":0.026,"e":0.018},{"w":1774.55,"f":0.004,"e":0.003},{"w":1776.5,"f":0,"e":0},{"w":1776.55,"f":0.009,"e":0.007},{"w":1776.7,"f":0.027,"e":0.02},{"w":1776.85,"f":0.065,"e":0.049},{"w":1777.0,"f":0.121,"e":0.091},{"w":1777.15,"f":0.177,"e":0.132},{"w":1777.3,"f":0.2,"e":0.15},{"w":1777.45,"f":0.177,"e":0.132},{"w":1777.6,"f":0.121,"e":0.091},{"w":1777.75,"f":0.065,"e":0.049},{"w":1777.9,"f":0.027,"e":0.02},{"w":1778.05,"f":0.009,"e":0.007},{"w":1778.2,"f":0,"e":0},{"w":1790.0,"f":0,"e":0}],
"d19":[{"w":1922.7,"f":3.1,"e":1.4},{"w":1923.0,"f":4.6,"e":1.5},{"w":1923.3,"f":5.6,"e":1.5},{"w":1923.6,"f":4.2,"e":1.4},{"w":1923.85,"f":2.7,"e":1.4},{"w":1924.2,"f":5.0,"e":1.3},{"w":1924.5,"f":4.1,"e":1.2},{"w":1924.8,"f":4.6,"e":1.2},{"w":1925.1,"f":3.8,"e":1.1},{"w":1925.4,"f":5.2,"e":1.1},{"w":1925.7,"f":3.5,"e":1.0},{"w":1926.0,"f":3.7,"e":1.0},{"w":1926.3,"f":4.6,"e":1.0},{"w":1926.6,"f":5.6,"e":1.0},{"w":1926.9,"f":4.3,"e":0.9},{"w":1927.2,"f":3.9,"e":0.9},{"w":1927.5,"f":4.2,"e":0.9},{"w":1927.8,"f":2.9,"e":0.9},{"w":1928.1,"f":3.6,"e":0.9},{"w":1928.4,"f":4.0,"e":0.9},{"w":1928.7,"f":3.2,"e":0.9},{"w":1929.0,"f":3.5,"e":0.9},{"w":1929.3,"f":4.1,"e":0.9},{"w":1929.6,"f":4.9,"e":0.9},{"w":1929.9,"f":4.5,"e":0.9},{"w":1930.2,"f":5.6,"e":0.9},{"w":1930.5,"f":6.2,"e":0.9},{"w":1930.8,"f":7.0,"e":0.9},{"w":1931.1,"f":7.9,"e":0.9},{"w":1931.4,"f":9.3,"e":0.9},{"w":1931.7,"f":9.9,"e":0.9},{"w":1932.0,"f":10.8,"e":0.9},{"w":1932.3,"f":11.2,"e":0.9},{"w":1932.5,"f":11.6,"e":0.9},{"w":1932.8,"f":10.1,"e":0.9},{"w":1933.1,"f":9.0,"e":0.9},{"w":1933.4,"f":9.5,"e":0.9},{"w":1933.7,"f":8.2,"e":0.9},{"w":1934.0,"f":9.1,"e":0.9},{"w":1934.3,"f":8.6,"e":0.9},{"w":1934.6,"f":7.4,"e":0.9},{"w":1934.9,"f":8.0,"e":0.9},{"w":1935.2,"f":6.1,"e":0.9},{"w":1935.5,"f":5.9,"e":0.9},{"w":1935.8,"f":4.9,"e":0.9},{"w":1936.1,"f":5.6,"e":0.9},{"w":1936.4,"f":4.2,"e":0.9},{"w":1936.7,"f":6.1,"e":0.9},{"w":1937.0,"f":4.6,"e":0.9},{"w":1937.3,"f":5.4,"e":0.9},{"w":1937.6,"f":3.8,"e":0.9},{"w":1937.9,"f":6.3,"e":0.9},{"w":1938.2,"f":5.0,"e":0.9},{"w":1938.5,"f":4.4,"e":0.9},{"w":1938.8,"f":5.7,"e":0.9},{"w":1939.1,"f":2.5,"e":0.9},{"w":1939.4,"f":5.2,"e":0.9},{"w":1939.7,"f":4.1,"e":0.9},{"w":1940.0,"f":6.0,"e":0.9},{"w":1940.3,"f":4.7,"e":0.9},{"w":1940.6,"f":5.4,"e":0.9},{"w":1940.9,"f":3.3,"e":0.9},{"w":1941.2,"f":5.8,"e":0.9},{"w":1941.5,"f":4.5,"e":0.9},{"w":1941.8,"f":5.3,"e":0.9},{"w":1942.1,"f":3.7,"e":0.9},{"w":1942.4,"f":6.2,"e":0.9},{"w":1942.7,"f":4.3,"e":0.9},{"w":1943.0,"f":5.1,"e":0.9},{"w":1943.3,"f":3.4,"e":0.9},{"w":1943.6,"f":5.5,"e":0.9},{"w":1943.9,"f":3.1,"e":0.9},{"w":1944.2,"f":1.0,"e":0.9},{"w":1944.5,"f":4.6,"e":0.9},{"w":1944.8,"f":5.2,"e":0.9},{"w":1945.1,"f":4.3,"e":0.9},{"w":1945.4,"f":5.0,"e":0.9},{"w":1945.7,"f":4.2,"e":0.9},{"w":1946.0,"f":3.3,"e":0.9},{"w":1946.5,"f":2.2,"e":0.9}],
"m19":[{"w":1922.7,"f":4.4,"e":0.15},{"w":1929.6,"f":4.4,"e":0.15},{"w":1930.0,"f":4.45,"e":0.15},{"w":1930.4,"f":4.75,"e":0.17},{"w":1930.8,"f":5.6,"e":0.2},{"w":1931.2,"f":6.9,"e":0.25},{"w":1931.6,"f":8.2,"e":0.3},{"w":1932.0,"f":9.2,"e":0.35},{"w":1932.3,"f":9.6,"e":0.38},{"w":1932.55,"f":9.65,"e":0.38},{"w":1932.8,"f":9.2,"e":0.35},{"w":1933.1,"f":8.4,"e":0.32},{"w":1933.4,"f":8.0,"e":0.3},{"w":1933.7,"f":7.95,"e":0.3},{"w":1934.0,"f":8.25,"e":0.32},{"w":1934.3,"f":8.35,"e":0.32},{"w":1934.6,"f":7.9,"e":0.3},{"w":1934.9,"f":7.1,"e":0.27},{"w":1935.2,"f":6.2,"e":0.24},{"w":1935.5,"f":5.4,"e":0.2},{"w":1935.8,"f":4.85,"e":0.17},{"w":1936.1,"f":4.55,"e":0.16},{"w":1936.5,"f":4.42,"e":0.15},{"w":1937.0,"f":4.4,"e":0.15},{"w":1946.5,"f":4.4,"e":0.15}]
},
"vconcat":[{
"title":{"text":"Fλ (×10⁻¹² erg cm⁻² s⁻¹ Å⁻¹)","orient":"left","fontSize":19.5,"offset":17.5,"anchor":"middle","frame":"bounds"},
"vconcat":[{
"title":{"text":"Observed Wavelength (Å)","orient":"bottom","fontSize":19.5,"offset":13,"anchor":"middle","dx":20,"frame":"bounds"},
"columns":4,"bounds":"flush","spacing":{"row":63,"column":74},
"resolve":{"scale":{"x":"independent","y":"independent"}},
"concat":[
{"title":"SiII1265 - S/N =nan","width":185,"height":178,"encoding":{"x":{"field":"w","type":"quantitative","scale":{"domain":[1269.65,1293.95],"nice":false,"zero":false},"axis":{"values":[1270,1280,1290],"format":"d","title":null}}},"layer":[
{"data":{"values":[{"w":1269.65,"w2":1293.95}]},"mark":{"type":"rect","color":"#e4f0e4","clip":true},"encoding":{"x2":{"field":"w2"}}},
{"data":{"name":"d1265"},"mark":{"type":"errorband","color":"#808080","opacity":0.45,"clip":true},"encoding":{"y":{"field":"f","type":"quantitative","scale":{"domain":[-8.05,2.5],"nice":false,"zero":false},"axis":{"values":[-5,0],"format":"d","title":null}},"yError":{"field":"e"}}},
{"data":{"name":"d1265"},"mark":{"type":"line","color":"#5c5c5c","strokeWidth":1.5,"clip":true},"encoding":{"y":{"field":"f","type":"quantitative"}}},
{"data":{"name":"m1265"},"mark":{"type":"line","color":"#f01414","strokeWidth":2,"clip":true},"encoding":{"y":{"field":"f","type":"quantitative"}}},
{"data":{"values":[{"w":1281.8}]},"mark":{"type":"rule","color":"black","strokeWidth":1.6,"strokeDash":[6,4]},"encoding":{}}]},
{"title":"SiIV1394 - S/N =nan","width":185,"height":178,"encoding":{"x":{"field":"w","type":"quantitative","scale":{"domain":[1400.35,1424.65],"nice":false,"zero":false},"axis":{"values":[1410,1420],"format":"d","title":null}}},"layer":[
{"data":{"values":[{"w":1400.35,"w2":1424.65}]},"mark":{"type":"rect","color":"white","clip":true},"encoding":{"x2":{"field":"w2"}}},
{"data":{"values":[{"w":1400.35,"w2":1401.2},{"w":1403.5,"w2":1424.65}]},"mark":{"type":"rect","color":"#e4f0e4","clip":true},"encoding":{"x2":{"field":"w2"}}},
{"data":{"name":"d14"},"mark":{"type":"errorband","color":"#808080","opacity":0.45,"clip":true},"encoding":{"y":{"field":"f","type":"quantitative","scale":{"domain":[-3.97,4.16],"nice":false,"zero":false},"axis":{"values":[-2.5,0,2.5],"format":".1f","title":null}},"yError":{"field":"e"}}},
{"data":{"name":"d14"},"mark":{"type":"line","color":"#5c5c5c","strokeWidth":1.5,"clip":true},"encoding":{"y":{"field":"f","type":"quantitative"}}},
{"data":{"name":"m14"},"mark":{"type":"errorband","color":"#ff1a1a","opacity":0.45,"clip":true},"encoding":{"y":{"field":"f","type":"quantitative"},"yError":{"field":"e"}}},
{"data":{"name":"m14"},"mark":{"type":"line","color":"#f01414","strokeWidth":2,"clip":true},"encoding":{"y":{"field":"f","type":"quantitative"}}},
{"data":{"values":[{"w":1412.5}]},"mark":{"type":"rule","color":"black","strokeWidth":1.6,"strokeDash":[6,4]},"encoding":{}}]},
{"title":"OIV1401 - S/N =3.0","width":185,"height":178,"encoding":{"x":{"field":"w","type":"quantitative","scale":{"domain":[1407.9,1432.2],"nice":false,"zero":false},"axis":{"values":[1410,1420,1430],"format":"d","title":null}}},"layer":[
{"data":{"values":[{"w":1407.9,"w2":1432.2}]},"mark":{"type":"rect","color":"#e4f0e4","clip":true},"encoding":{"x2":{"field":"w2"}}},
{"data":{"name":"d14"},"mark":{"type":"errorband","color":"#808080","opacity":0.45,"clip":true},"encoding":{"y":{"field":"f","type":"quantitative","scale":{"domain":[-3.97,4.16],"nice":false,"zero":false},"axis":{"values":[-2.5,0,2.5],"format":".1f","title":null}},"yError":{"field":"e"}}},
{"data":{"name":"d14"},"mark":{"type":"line","color":"#5c5c5c","strokeWidth":1.5,"clip":true},"encoding":{"y":{"field":"f","type":"quantitative"}}},
{"data":{"name":"m14"},"mark":{"type":"errorband","color":"#ff1a1a","opacity":0.45,"clip":true},"encoding":{"y":{"field":"f","type":"quantitative"},"yError":{"field":"e"}}},
{"data":{"name":"m14"},"mark":{"type":"line","color":"#f01414","strokeWidth":2,"clip":true},"encoding":{"y":{"field":"f","type":"quantitative"}}},
{"data":{"values":[{"w":1420.0}]},"mark":{"type":"rule","color":"black","strokeWidth":1.6,"strokeDash":[6,4]},"encoding":{}}]},
{"title":"SiIV1403 - S/N =3.0","width":185,"height":178,"encoding":{"x":{"field":"w","type":"quantitative","scale":{"domain":[1409.6,1433.9],"nice":false,"zero":false},"axis":{"values":[1410,1420,1430],"format":"d","title":null}}},"layer":[
{"data":{"values":[{"w":1409.6,"w2":1433.9}]},"mark":{"type":"rect","color":"#e4f0e4","clip":true},"encoding":{"x2":{"field":"w2"}}},
{"data":{"name":"d14"},"mark":{"type":"errorband","color":"#808080","opacity":0.45,"clip":true},"encoding":{"y":{"field":"f","type":"quantitative","scale":{"domain":[-3.97,4.16],"nice":false,"zero":false},"axis":{"values":[-2.5,0,2.5],"format":".1f","title":null}},"yError":{"field":"e"}}},
{"data":{"name":"d14"},"mark":{"type":"line","color":"#5c5c5c","strokeWidth":1.5,"clip":true},"encoding":{"y":{"field":"f","type":"quantitative"}}},
{"data":{"name":"m14"},"mark":{"type":"errorband","color":"#ff1a1a","opacity":0.45,"clip":true},"encoding":{"y":{"field":"f","type":"quantitative"},"yError":{"field":"e"}}},
{"data":{"name":"m14"},"mark":{"type":"line","color":"#f01414","strokeWidth":2,"clip":true},"encoding":{"y":{"field":"f","type":"quantitative"}}},
{"data":{"values":[{"w":1421.7}]},"mark":{"type":"rule","color":"black","strokeWidth":1.6,"strokeDash":[6,4]},"encoding":{}}]},
{"title":"OIV_SIV - S/N =4.0","width":185,"height":178,"encoding":{"x":{"field":"w","type":"quantitative","scale":{"domain":[1411.55,1435.85],"nice":false,"zero":false},"axis":{"values":[1420,1430],"format":"d","title":null}}},"layer":[
{"data":{"values":[{"w":1411.55,"w2":1435.85}]},"mark":{"type":"rect","color":"#e4f0e4","clip":true},"encoding":{"x2":{"field":"w2"}}},
{"data":{"name":"d14"},"mark":{"type":"errorband","color":"#808080","opacity":0.45,"clip":true},"encoding":{"y":{"field":"f","type":"quantitative","scale":{"domain":[-4.0,4.15],"nice":false,"zero":false},"axis":{"values":[-2.5,0,2.5],"format":".1f","title":null}},"yError":{"field":"e"}}},
{"data":{"name":"d14"},"mark":{"type":"line","color":"#5c5c5c","strokeWidth":1.5,"clip":true},"encoding":{"y":{"field":"f","type":"quantitative"}}},
{"data":{"name":"m14"},"mark":{"type":"errorband","color":"#ff1a1a","opacity":0.45,"clip":true},"encoding":{"y":{"field":"f","type":"quantitative"},"yError":{"field":"e"}}},
{"data":{"name":"m14"},"mark":{"type":"line","color":"#f01414","strokeWidth":2,"clip":true},"encoding":{"y":{"field":"f","type":"quantitative"}}},
{"data":{"values":[{"w":1423.7}]},"mark":{"type":"rule","color":"black","strokeWidth":1.6,"strokeDash":[6,4]},"encoding":{}}]},
{"title":"SIV1406 - S/N =nan","width":185,"height":178,"encoding":{"x":{"field":"w","type":"quantitative","scale":{"domain":[1412.95,1437.25],"nice":false,"zero":false},"axis":{"values":[1420,1430],"format":"d","title":null}}},"layer":[
{"data":{"values":[{"w":1412.95,"w2":1437.25}]},"mark":{"type":"rect","color":"#e4f0e4","clip":true},"encoding":{"x2":{"field":"w2"}}},
{"data":{"name":"d14"},"mark":{"type":"errorband","color":"#808080","opacity":0.45,"clip":true},"encoding":{"y":{"field":"f","type":"quantitative","scale":{"domain":[-4.0,4.15],"nice":false,"zero":false},"axis":{"values":[-2.5,0,2.5],"format":".1f","title":null}},"yError":{"field":"e"}}},
{"data":{"name":"d14"},"mark":{"type":"line","color":"#5c5c5c","strokeWidth":1.5,"clip":true},"encoding":{"y":{"field":"f","type":"quantitative"}}},
{"data":{"name":"m14"},"mark":{"type":"errorband","color":"#ff1a1a","opacity":0.45,"clip":true},"encoding":{"y":{"field":"f","type":"quantitative"},"yError":{"field":"e"}}},
{"data":{"name":"m14"},"mark":{"type":"line","color":"#f01414","strokeWidth":2,"clip":true},"encoding":{"y":{"field":"f","type":"quantitative"}}},
{"data":{"values":[{"w":1425.1}]},"mark":{"type":"rule","color":"black","strokeWidth":1.6,"strokeDash":[6,4]},"encoding":{}}]},
{"title":"OIV1407 - S/N =3.0","width":185,"height":178,"encoding":{"x":{"field":"w","type":"quantitative","scale":{"domain":[1414.25,1438.55],"nice":false,"zero":false},"axis":{"values":[1420,1430],"format":"d","title":null}}},"layer":[
{"data":{"values":[{"w":1414.25,"w2":1438.55}]},"mark":{"type":"rect","color":"#e4f0e4","clip":true},"encoding":{"x2":{"field":"w2"}}},
{"data":{"name":"d14"},"mark":{"type":"errorband","color":"#808080","opacity":0.45,"clip":true},"encoding":{"y":{"field":"f","type":"quantitative","scale":{"domain":[-4.0,4.15],"nice":false,"zero":false},"axis":{"values":[-2.5,0,2.5],"format":".1f","title":null}},"yError":{"field":"e"}}},
{"data":{"name":"d14"},"mark":{"type":"line","color":"#5c5c5c","strokeWidth":1.5,"clip":true},"encoding":{"y":{"field":"f","type":"quantitative"}}},
{"data":{"name":"m14"},"mark":{"type":"errorband","color":"#ff1a1a","opacity":0.45,"clip":true},"encoding":{"y":{"field":"f","type":"quantitative"},"yError":{"field":"e"}}},
{"data":{"name":"m14"},"mark":{"type":"line","color":"#f01414","strokeWidth":2,"clip":true},"encoding":{"y":{"field":"f","type":"quantitative"}}},
{"data":{"values":[{"w":1426.4}]},"mark":{"type":"rule","color":"black","strokeWidth":1.6,"strokeDash":[6,4]},"encoding":{}}]},
{"title":"OIV1410 - S/N =0.0","width":185,"height":178,"encoding":{"x":{"field":"w","type":"quantitative","scale":{"domain":[1417.55,1441.85],"nice":false,"zero":false},"axis":{"values":[1420,1430,1440],"format":"d","title":null}}},"layer":[
{"data":{"values":[{"w":1417.55,"w2":1441.85}]},"mark":{"type":"rect","color":"#e4f0e4","clip":true},"encoding":{"x2":{"field":"w2"}}},
{"data":{"name":"d14"},"mark":{"type":"errorband","color":"#808080","opacity":0.45,"clip":true},"encoding":{"y":{"field":"f","type":"quantitative","scale":{"domain":[-4.0,4.15],"nice":false,"zero":false},"axis":{"values":[-2.5,0,2.5],"format":".1f","title":null}},"yError":{"field":"e"}}},
{"data":{"name":"d14"},"mark":{"type":"line","color":"#5c5c5c","strokeWidth":1.5,"clip":true},"encoding":{"y":{"field":"f","type":"quantitative"}}},
{"data":{"name":"m14"},"mark":{"type":"errorband","color":"#ff1a1a","opacity":0.45,"clip":true},"encoding":{"y":{"field":"f","type":"quantitative"},"yError":{"field":"e"}}},
{"data":{"name":"m14"},"mark":{"type":"line","color":"#f01414","strokeWidth":2,"clip":true},"encoding":{"y":{"field":"f","type":"quantitative"}}},
{"data":{"values":[{"w":1429.7}]},"mark":{"type":"rule","color":"black","strokeWidth":1.6,"strokeDash":[6,4]},"encoding":{}}]},
{"title":"SIV1417 - S/N =nan","width":185,"height":178,"encoding":{"x":{"field":"w","type":"quantitative","scale":{"domain":[1424.15,1448.45],"nice":false,"zero":false},"axis":{"values":[1430,1440],"format":"d","title":null}}},"layer":[
{"data":{"values":[{"w":1424.15,"w2":1448.45}]},"mark":{"type":"rect","color":"#e4f0e4","clip":true},"encoding":{"x2":{"field":"w2"}}},
{"data":{"name":"d14"},"mark":{"type":"errorband","color":"#808080","opacity":0.45,"clip":true},"encoding":{"y":{"field":"f","type":"quantitative","scale":{"domain":[-1.06,3.07],"nice":false,"zero":false},"axis":{"values":[0,2],"format":"d","title":null}},"yError":{"field":"e"}}},
{"data":{"name":"d14"},"mark":{"type":"line","color":"#5c5c5c","strokeWidth":1.5,"clip":true},"encoding":{"y":{"field":"f","type":"quantitative"}}},
{"data":{"name":"m14"},"mark":{"type":"errorband","color":"#ff1a1a","opacity":0.45,"clip":true},"encoding":{"y":{"field":"f","type":"quantitative"},"yError":{"field":"e"}}},
{"data":{"name":"m14"},"mark":{"type":"line","color":"#f01414","strokeWidth":2,"clip":true},"encoding":{"y":{"field":"f","type":"quantitative"}}},
{"data":{"values":[{"w":1436.3}]},"mark":{"type":"rule","color":"black","strokeWidth":1.6,"strokeDash":[6,4]},"encoding":{}}]},
{"title":"SIV1424 - S/N =2.0","width":185,"height":178,"encoding":{"x":{"field":"w","type":"quantitative","scale":{"domain":[1430.85,1455.15],"nice":false,"zero":false},"axis":{"values":[1440,1450],"format":"d","title":null}}},"layer":[
{"data":{"values":[{"w":1430.85,"w2":1455.15}]},"mark":{"type":"rect","color":"white","clip":true},"encoding":{"x2":{"field":"w2"}}},
{"data":{"values":[{"w":1430.85,"w2":1449.1}]},"mark":{"type":"rect","color":"#e4f0e4","clip":true},"encoding":{"x2":{"field":"w2"}}},
{"data":{"name":"d14"},"mark":{"type":"errorband","color":"#808080","opacity":0.45,"clip":true},"encoding":{"y":{"field":"f","type":"quantitative","scale":{"domain":[-0.97,2.35],"nice":false,"zero":false},"axis":{"values":[0,1,2],"format":"d","title":null}},"yError":{"field":"e"}}},
{"data":{"name":"d14"},"mark":{"type":"line","color":"#5c5c5c","strokeWidth":1.5,"clip":true},"encoding":{"y":{"field":"f","type":"quantitative"}}},
{"data":{"name":"m14"},"mark":{"type":"errorband","color":"#ff1a1a","opacity":0.45,"clip":true},"encoding":{"y":{"field":"f","type":"quantitative"},"yError":{"field":"e"}}},
{"data":{"name":"m14"},"mark":{"type":"line","color":"#f01414","strokeWidth":2,"clip":true},"encoding":{"y":{"field":"f","type":"quantitative"}}},
{"data":{"values":[{"w":1443.0}]},"mark":{"type":"rule","color":"black","strokeWidth":1.6,"strokeDash":[6,4]},"encoding":{}}]},
{"title":"NIV1483 - S/N =3.0","width":185,"height":178,"encoding":{"x":{"field":"w","type":"quantitative","scale":{"domain":[1491.15,1515.45],"nice":false,"zero":false},"axis":{"values":[1500,1510],"format":"d","title":null}}},"layer":[
{"data":{"values":[{"w":1491.15,"w2":1515.45}]},"mark":{"type":"rect","color":"white","clip":true},"encoding":{"x2":{"field":"w2"}}},
{"data":{"values":[{"w":1491.7,"w2":1515.45}]},"mark":{"type":"rect","color":"#e4f0e4","clip":true},"encoding":{"x2":{"field":"w2"}}},
{"data":{"name":"d15"},"mark":{"type":"errorband","color":"#808080","opacity":0.45,"clip":true},"encoding":{"y":{"field":"f","type":"quantitative","scale":{"domain":[-0.73,2.26],"nice":false,"zero":false},"axis":{"values":[0,1,2],"format":"d","title":null}},"yError":{"field":"e"}}},
{"data":{"name":"d15"},"mark":{"type":"line","color":"#5c5c5c","strokeWidth":1.5,"clip":true},"encoding":{"y":{"field":"f","type":"quantitative"}}},
{"data":{"name":"m15"},"mark":{"type":"errorband","color":"#ff1a1a","opacity":0.45,"clip":true},"encoding":{"y":{"field":"f","type":"quantitative"},"yError":{"field":"e"}}},
{"data":{"name":"m15"},"mark":{"type":"line","color":"#f01414","strokeWidth":2,"clip":true},"encoding":{"y":{"field":"f","type":"quantitative"}}},
{"data":{"values":[{"w":1503.3}]},"mark":{"type":"rule","color":"black","strokeWidth":1.6,"strokeDash":[6,4]},"encoding":{}}]},
{"title":"NIV1487 - S/N =1.0","width":185,"height":178,"encoding":{"x":{"field":"w","type":"quantitative","scale":{"domain":[1494.35,1518.65],"nice":false,"zero":false},"axis":{"values":[1500,1510],"format":"d","title":null}}},"layer":[
{"data":{"values":[{"w":1494.35,"w2":1518.65}]},"mark":{"type":"rect","color":"white","clip":true},"encoding":{"x2":{"field":"w2"}}},
{"data":{"values":[{"w":1494.35,"w2":1517.1}]},"mark":{"type":"rect","color":"#e4f0e4","clip":true},"encoding":{"x2":{"field":"w2"}}},
{"data":{"name":"d15"},"mark":{"type":"errorband","color":"#808080","opacity":0.45,"clip":true},"encoding":{"y":{"field":"f","type":"quantitative","scale":{"domain":[-0.73,2.26],"nice":false,"zero":false},"axis":{"values":[0,1,2],"format":"d","title":null}},"yError":{"field":"e"}}},
{"data":{"name":"d15"},"mark":{"type":"line","color":"#5c5c5c","strokeWidth":1.5,"clip":true},"encoding":{"y":{"field":"f","type":"quantitative"}}},
{"data":{"name":"m15"},"mark":{"type":"errorband","color":"#ff1a1a","opacity":0.45,"clip":true},"encoding":{"y":{"field":"f","type":"quantitative"},"yError":{"field":"e"}}},
{"data":{"name":"m15"},"mark":{"type":"line","color":"#f01414","strokeWidth":2,"clip":true},"encoding":{"y":{"field":"f","type":"quantitative"}}},
{"data":{"values":[{"w":1506.5}]},"mark":{"type":"rule","color":"black","strokeWidth":1.6,"strokeDash":[6,4]},"encoding":{}}]},
{"title":{"text":"SiIIstar - S/N =nan","offset":-1.5},"width":185,"height":178,"encoding":{"x":{"field":"w","type":"quantitative","scale":{"domain":[1541.95,1566.25],"nice":false,"zero":false},"axis":{"values":[1550,1560],"format":"d","title":null}}},"layer":[
{"data":{"values":[{"w":1541.95,"w2":1566.25}]},"mark":{"type":"rect","color":"white","clip":true},"encoding":{"x2":{"field":"w2"}}},
{"data":{"values":[{"w":1543.45,"w2":1546.96},{"w":1549.1,"w2":1566.25}]},"mark":{"type":"rect","color":"#e4f0e4","clip":true},"encoding":{"x2":{"field":"w2"}}},
{"data":{"name":"d155"},"mark":{"type":"errorband","color":"#808080","opacity":0.45,"clip":true},"encoding":{"y":{"field":"f","type":"quantitative","scale":{"domain":[-4.83,2.02],"nice":false,"zero":false},"axis":{"values":[-4,-2,0,2],"format":"d","title":null}},"yError":{"field":"e"}}},
{"data":{"name":"d155"},"mark":{"type":"line","color":"#5c5c5c","strokeWidth":1.5,"clip":true},"encoding":{"y":{"field":"f","type":"quantitative"}}},
{"data":{"name":"m155"},"mark":{"type":"line","color":"#f01414","strokeWidth":2,"clip":true},"encoding":{"y":{"field":"f","type":"quantitative"}}},
{"data":{"values":[{"w":1554.1}]},"mark":{"type":"rule","color":"black","strokeWidth":1.6,"strokeDash":[6,4]},"encoding":{}}]},
{"title":"CIV1548 - S/N =27.0","width":185,"height":178,"encoding":{"x":{"field":"w","type":"quantitative","scale":{"domain":[1556.85,1581.15],"nice":false,"zero":false},"axis":{"values":[1560,1570,1580],"format":"d","title":null}}},"layer":[
{"data":{"values":[{"w":1556.85,"w2":1581.15}]},"mark":{"type":"rect","color":"#e4f0e4","clip":true},"encoding":{"x2":{"field":"w2"}}},
{"data":{"name":"d157"},"mark":{"type":"errorband","color":"#808080","opacity":0.45,"clip":true},"encoding":{"y":{"field":"f","type":"quantitative","scale":{"domain":[-1.0,14.1],"nice":false,"zero":false},"axis":{"values":[0,5,10],"format":"d","title":null}},"yError":{"field":"e"}}},
{"data":{"name":"d157"},"mark":{"type":"line","color":"#5c5c5c","strokeWidth":1.5,"clip":true},"encoding":{"y":{"field":"f","type":"quantitative"}}},
{"data":{"name":"m157"},"mark":{"type":"errorband","color":"#ff1a1a","opacity":0.45,"clip":true},"encoding":{"y":{"field":"f","type":"quantitative"},"yError":{"field":"e"}}},
{"data":{"name":"m157"},"mark":{"type":"line","color":"#f01414","strokeWidth":2,"clip":true},"encoding":{"y":{"field":"f","type":"quantitative"}}},
{"data":{"values":[{"w":1569.0}]},"mark":{"type":"rule","color":"black","strokeWidth":1.6,"strokeDash":[6,4]},"encoding":{}}]},
{"title":"CIV1551 - S/N =15.0","width":185,"height":178,"encoding":{"x":{"field":"w","type":"quantitative","scale":{"domain":[1559.45,1583.75],"nice":false,"zero":false},"axis":{"values":[1560,1570,1580],"format":"d","title":null}}},"layer":[
{"data":{"values":[{"w":1559.45,"w2":1583.75}]},"mark":{"type":"rect","color":"#e4f0e4","clip":true},"encoding":{"x2":{"field":"w2"}}},
{"data":{"name":"d157"},"mark":{"type":"errorband","color":"#808080","opacity":0.45,"clip":true},"encoding":{"y":{"field":"f","type":"quantitative","scale":{"domain":[-1.0,14.1],"nice":false,"zero":false},"axis":{"values":[0,5,10],"format":"d","title":null}},"yError":{"field":"e"}}},
{"data":{"name":"d157"},"mark":{"type":"line","color":"#5c5c5c","strokeWidth":1.5,"clip":true},"encoding":{"y":{"field":"f","type":"quantitative"}}},
{"data":{"name":"m157"},"mark":{"type":"errorband","color":"#ff1a1a","opacity":0.45,"clip":true},"encoding":{"y":{"field":"f","type":"quantitative"},"yError":{"field":"e"}}},
{"data":{"name":"m157"},"mark":{"type":"line","color":"#f01414","strokeWidth":2,"clip":true},"encoding":{"y":{"field":"f","type":"quantitative"}}},
{"data":{"values":[{"w":1571.6}]},"mark":{"type":"rule","color":"black","strokeWidth":1.6,"strokeDash":[6,4]},"encoding":{}}]},
{"title":"HeII1640 - S/N =21.0","width":185,"height":178,"encoding":{"x":{"field":"w","type":"quantitative","scale":{"domain":[1650.35,1674.65],"nice":false,"zero":false},"axis":{"values":[1660,1670],"format":"d","title":null}}},"layer":[
{"data":{"values":[{"w":1650.35,"w2":1674.65}]},"mark":{"type":"rect","color":"white","clip":true},"encoding":{"x2":{"field":"w2"}}},
{"data":{"values":[{"w":1651.6,"w2":1669.8},{"w":1671.9,"w2":1674.65}]},"mark":{"type":"rect","color":"#e4f0e4","clip":true},"encoding":{"x2":{"field":"w2"}}},
{"data":{"name":"d166"},"mark":{"type":"errorband","color":"#808080","opacity":0.45,"clip":true},"encoding":{"y":{"field":"f","type":"quantitative","scale":{"domain":[-4.9,12.7],"nice":false,"zero":false},"axis":{"values":[-5,0,5,10],"format":"d","title":null}},"yError":{"field":"e"}}},
{"data":{"name":"d166"},"mark":{"type":"line","color":"#5c5c5c","strokeWidth":1.5,"clip":true},"encoding":{"y":{"field":"f","type":"quantitative"}}},
{"data":{"name":"m166"},"mark":{"type":"errorband","color":"#ff1a1a","opacity":0.45,"clip":true},"encoding":{"y":{"field":"f","type":"quantitative"},"yError":{"field":"e"}}},
{"data":{"name":"m166"},"mark":{"type":"line","color":"#f01414","strokeWidth":2,"clip":true},"encoding":{"y":{"field":"f","type":"quantitative"}}},
{"data":{"values":[{"w":1662.5}]},"mark":{"type":"rule","color":"black","strokeWidth":1.6,"strokeDash":[6,4]},"encoding":{}}]},
{"title":"OIII1661 - S/N =8.0","width":185,"height":178,"encoding":{"x":{"field":"w","type":"quantitative","scale":{"domain":[1671.05,1695.35],"nice":false,"zero":false},"axis":{"values":[1680,1690],"format":"d","title":null}}},"layer":[
{"data":{"values":[{"w":1671.05,"w2":1695.35}]},"mark":{"type":"rect","color":"white","clip":true},"encoding":{"x2":{"field":"w2"}}},
{"data":{"values":[{"w":1671.7,"w2":1691.3}]},"mark":{"type":"rect","color":"#e4f0e4","clip":true},"encoding":{"x2":{"field":"w2"}}},
{"data":{"name":"d168"},"mark":{"type":"errorband","color":"#808080","opacity":0.45,"clip":true},"encoding":{"y":{"field":"f","type":"quantitative","scale":{"domain":[-3.35,10.58],"nice":false,"zero":false},"axis":{"values":[0,5,10],"format":"d","title":null}},"yError":{"field":"e"}}},
{"data":{"name":"d168"},"mark":{"type":"line","color":"#5c5c5c","strokeWidth":1.5,"clip":true},"encoding":{"y":{"field":"f","type":"quantitative"}}},
{"data":{"name":"m168"},"mark":{"type":"errorband","color":"#ff1a1a","opacity":0.45,"clip":true},"encoding":{"y":{"field":"f","type":"quantitative"},"yError":{"field":"e"}}},
{"data":{"name":"m168"},"mark":{"type":"line","color":"#f01414","strokeWidth":2,"clip":true},"encoding":{"y":{"field":"f","type":"quantitative"}}},
{"data":{"values":[{"w":1683.2}]},"mark":{"type":"rule","color":"black","strokeWidth":1.6,"strokeDash":[6,4]},"encoding":{}}]},
{"title":"OIII1666 - S/N =15.0","width":185,"height":178,"encoding":{"x":{"field":"w","type":"quantitative","scale":{"domain":[1676.45,1700.75],"nice":false,"zero":false},"axis":{"values":[1680,1690,1700],"format":"d","title":null}}},"layer":[
{"data":{"values":[{"w":1676.45,"w2":1700.75}]},"mark":{"type":"rect","color":"white","clip":true},"encoding":{"x2":{"field":"w2"}}},
{"data":{"values":[{"w":1676.45,"w2":1691.3},{"w":1695.3,"w2":1698.6}]},"mark":{"type":"rect","color":"#e4f0e4","clip":true},"encoding":{"x2":{"field":"w2"}}},
{"data":{"name":"d168"},"mark":{"type":"errorband","color":"#808080","opacity":0.45,"clip":true},"encoding":{"y":{"field":"f","type":"quantitative","scale":{"domain":[-3.35,10.58],"nice":false,"zero":false},"axis":{"values":[0,5,10],"format":"d","title":null}},"yError":{"field":"e"}}},
{"data":{"name":"d168"},"mark":{"type":"line","color":"#5c5c5c","strokeWidth":1.5,"clip":true},"encoding":{"y":{"field":"f","type":"quantitative"}}},
{"data":{"name":"m168"},"mark":{"type":"errorband","color":"#ff1a1a","opacity":0.45,"clip":true},"encoding":{"y":{"field":"f","type":"quantitative"},"yError":{"field":"e"}}},
{"data":{"name":"m168"},"mark":{"type":"line","color":"#f01414","strokeWidth":2,"clip":true},"encoding":{"y":{"field":"f","type":"quantitative"}}},
{"data":{"values":[{"w":1688.6}]},"mark":{"type":"rule","color":"black","strokeWidth":1.6,"strokeDash":[6,4]},"encoding":{}}]},
{"title":"NIII1747 - S/N =1.0","width":185,"height":178,"encoding":{"x":{"field":"w","type":"quantitative","scale":{"domain":[1757.9,1782.3],"nice":false,"zero":false},"axis":{"values":[1760,1770,1780],"format":"d","title":null}}},"layer":[
{"data":{"values":[{"w":1757.9,"w2":1782.3}]},"mark":{"type":"rect","color":"white","clip":true},"encoding":{"x2":{"field":"w2"}}},
{"data":{"values":[{"w":1759.9,"w2":1782.3}]},"mark":{"type":"rect","color":"#e4f0e4","clip":true},"encoding":{"x2":{"field":"w2"}}},
{"data":{"name":"d177"},"mark":{"type":"errorband","color":"#808080","opacity":0.45,"clip":true},"encoding":{"y":{"field":"f","type":"quantitative","scale":{"domain":[-1.35,2.84],"nice":false,"zero":false},"axis":{"values":[0,2],"format":"d","title":null}},"yError":{"field":"e"}}},
{"data":{"name":"d177"},"mark":{"type":"line","color":"#5c5c5c","strokeWidth":1.5,"clip":true},"encoding":{"y":{"field":"f","type":"quantitative"}}},
{"data":{"name":"m177"},"mark":{"type":"errorband","color":"#ff1a1a","opacity":0.5,"clip":true},"encoding":{"y":{"field":"f","type":"quantitative"},"yError":{"field":"e"}}},
{"data":{"name":"m177"},"mark":{"type":"line","color":"#f01414","strokeWidth":2,"clip":true},"encoding":{"y":{"field":"f","type":"quantitative"}}},
{"data":{"values":[{"w":1770.1}]},"mark":{"type":"rule","color":"black","strokeWidth":1.6,"strokeDash":[6,4]},"encoding":{}}]},
{"title":"NIII1749 - S/N =1.0","width":185,"height":178,"encoding":{"x":{"field":"w","type":"quantitative","scale":{"domain":[1760.05,1784.35],"nice":false,"zero":false},"axis":{"values":[1770,1780],"format":"d","title":null}}},"layer":[
{"data":{"values":[{"w":1760.05,"w2":1784.35}]},"mark":{"type":"rect","color":"#e4f0e4","clip":true},"encoding":{"x2":{"field":"w2"}}},
{"data":{"name":"d177"},"mark":{"type":"errorband","color":"#808080","opacity":0.45,"clip":true},"encoding":{"y":{"field":"f","type":"quantitative","scale":{"domain":[-1.35,2.84],"nice":false,"zero":false},"axis":{"values":[0,2],"format":"d","title":null}},"yError":{"field":"e"}}},
{"data":{"name":"d177"},"mark":{"type":"line","color":"#5c5c5c","strokeWidth":1.5,"clip":true},"encoding":{"y":{"field":"f","type":"quantitative"}}},
{"data":{"name":"m177"},"mark":{"type":"errorband","color":"#ff1a1a","opacity":0.5,"clip":true},"encoding":{"y":{"field":"f","type":"quantitative"},"yError":{"field":"e"}}},
{"data":{"name":"m177"},"mark":{"type":"line","color":"#f01414","strokeWidth":2,"clip":true},"encoding":{"y":{"field":"f","type":"quantitative"}}},
{"data":{"values":[{"w":1772.2}]},"mark":{"type":"rule","color":"black","strokeWidth":1.6,"strokeDash":[6,4]},"encoding":{}}]},
{"title":"NIII1750 - S/N =1.0","width":185,"height":178,"encoding":{"x":{"field":"w","type":"quantitative","scale":{"domain":[1761.05,1785.35],"nice":false,"zero":false},"axis":{"values":[1770,1780],"format":"d","title":null}}},"layer":[
{"data":{"values":[{"w":1761.05,"w2":1785.35}]},"mark":{"type":"rect","color":"#e4f0e4","clip":true},"encoding":{"x2":{"field":"w2"}}},
{"data":{"name":"d177"},"mark":{"type":"errorband","color":"#808080","opacity":0.45,"clip":true},"encoding":{"y":{"field":"f","type":"quantitative","scale":{"domain":[-1.38,2.83],"nice":false,"zero":false},"axis":{"values":[0,2],"format":"d","title":null}},"yError":{"field":"e"}}},
{"data":{"name":"d177"},"mark":{"type":"line","color":"#5c5c5c","strokeWidth":1.5,"clip":true},"encoding":{"y":{"field":"f","type":"quantitative"}}},
{"data":{"name":"m177"},"mark":{"type":"errorband","color":"#ff1a1a","opacity":0.5,"clip":true},"encoding":{"y":{"field":"f","type":"quantitative"},"yError":{"field":"e"}}},
{"data":{"name":"m177"},"mark":{"type":"line","color":"#f01414","strokeWidth":2,"clip":true},"encoding":{"y":{"field":"f","type":"quantitative"}}},
{"data":{"values":[{"w":1773.2}]},"mark":{"type":"rule","color":"black","strokeWidth":1.6,"strokeDash":[6,4]},"encoding":{}}]},
{"title":"NIII1750_1 - S/N =1.0","width":185,"height":178,"encoding":{"x":{"field":"w","type":"quantitative","scale":{"domain":[1761.65,1785.95],"nice":false,"zero":false},"axis":{"values":[1770,1780],"format":"d","title":null}}},"layer":[
{"data":{"values":[{"w":1761.65,"w2":1785.95}]},"mark":{"type":"rect","color":"#e4f0e4","clip":true},"encoding":{"x2":{"field":"w2"}}},
{"data":{"name":"d177"},"mark":{"type":"errorband","color":"#808080","opacity":0.45,"clip":true},"encoding":{"y":{"field":"f","type":"quantitative","scale":{"domain":[-1.38,2.83],"nice":false,"zero":false},"axis":{"values":[0,2],"format":"d","title":null}},"yError":{"field":"e"}}},
{"data":{"name":"d177"},"mark":{"type":"line","color":"#5c5c5c","strokeWidth":1.5,"clip":true},"encoding":{"y":{"field":"f","type":"quantitative"}}},
{"data":{"name":"m177"},"mark":{"type":"errorband","color":"#ff1a1a","opacity":0.5,"clip":true},"encoding":{"y":{"field":"f","type":"quantitative"},"yError":{"field":"e"}}},
{"data":{"name":"m177"},"mark":{"type":"line","color":"#f01414","strokeWidth":2,"clip":true},"encoding":{"y":{"field":"f","type":"quantitative"}}},
{"data":{"values":[{"w":1773.8}]},"mark":{"type":"rule","color":"black","strokeWidth":1.6,"strokeDash":[6,4]},"encoding":{}}]},
{"title":"NIII1752 - S/N =nan","width":185,"height":178,"encoding":{"x":{"field":"w","type":"quantitative","scale":{"domain":[1763.55,1787.85],"nice":false,"zero":false},"axis":{"values":[1770,1780],"format":"d","title":null}}},"layer":[
{"data":{"values":[{"w":1763.55,"w2":1787.85}]},"mark":{"type":"rect","color":"#e4f0e4","clip":true},"encoding":{"x2":{"field":"w2"}}},
{"data":{"name":"d177"},"mark":{"type":"errorband","color":"#808080","opacity":0.45,"clip":true},"encoding":{"y":{"field":"f","type":"quantitative","scale":{"domain":[-1.38,2.83],"nice":false,"zero":false},"axis":{"values":[0,2],"format":"d","title":null}},"yError":{"field":"e"}}},
{"data":{"name":"d177"},"mark":{"type":"line","color":"#5c5c5c","strokeWidth":1.5,"clip":true},"encoding":{"y":{"field":"f","type":"quantitative"}}},
{"data":{"name":"m177"},"mark":{"type":"errorband","color":"#ff1a1a","opacity":0.5,"clip":true},"encoding":{"y":{"field":"f","type":"quantitative"},"yError":{"field":"e"}}},
{"data":{"name":"m177"},"mark":{"type":"line","color":"#f01414","strokeWidth":2,"clip":true},"encoding":{"y":{"field":"f","type":"quantitative"}}},
{"data":{"values":[{"w":1775.7}]},"mark":{"type":"rule","color":"black","strokeWidth":1.6,"strokeDash":[6,4]},"encoding":{}}]},
{"title":"NIII1754 - S/N =0.0","width":185,"height":178,"encoding":{"x":{"field":"w","type":"quantitative","scale":{"domain":[1765.45,1789.75],"nice":false,"zero":false},"axis":{"values":[1770,1780],"format":"d","title":null}}},"layer":[
{"data":{"values":[{"w":1765.45,"w2":1789.75}]},"mark":{"type":"rect","color":"white","clip":true},"encoding":{"x2":{"field":"w2"}}},
{"data":{"values":[{"w":1765.45,"w2":1787.8}]},"mark":{"type":"rect","color":"#e4f0e4","clip":true},"encoding":{"x2":{"field":"w2"}}},
{"data":{"name":"d177"},"mark":{"type":"errorband","color":"#808080","opacity":0.45,"clip":true},"encoding":{"y":{"field":"f","type":"quantitative","scale":{"domain":[-1.38,2.83],"nice":false,"zero":false},"axis":{"values":[0,2],"format":"d","title":null}},"yError":{"field":"e"}}},
{"data":{"name":"d177"},"mark":{"type":"line","color":"#5c5c5c","strokeWidth":1.5,"clip":true},"encoding":{"y":{"field":"f","type":"quantitative"}}},
{"data":{"name":"m177"},"mark":{"type":"errorband","color":"#ff1a1a","opacity":0.5,"clip":true},"encoding":{"y":{"field":"f","type":"quantitative"},"yError":{"field":"e"}}},
{"data":{"name":"m177"},"mark":{"type":"line","color":"#f01414","strokeWidth":2,"clip":true},"encoding":{"y":{"field":"f","type":"quantitative"}}},
{"data":{"values":[{"w":1777.6}]},"mark":{"type":"rule","color":"black","strokeWidth":1.6,"strokeDash":[6,4]},"encoding":{}}]},
{"title":{"text":"SiIII1883 - S/N =nan","offset":-1.5},"width":185,"height":178,"view":{"stroke":"#228b22"},"encoding":{"x":{"field":"w","type":"quantitative","scale":{"domain":[1895.95,1920.25],"nice":false,"zero":false},"axis":{"values":[1900,1910,1920],"format":"d","title":null}}},"layer":[
{"data":{"values":[{"w":1895.95,"w2":1920.25}]},"mark":{"type":"rect","color":"white","clip":true},"encoding":{"x2":{"field":"w2"}}},
{"data":{"values":[{"w":1897.9,"w2":1920.25}]},"mark":{"type":"rect","color":"#e4f0e4","clip":true},"encoding":{"x2":{"field":"w2"}}},
{"data":{"name":"m19"},"mark":{"type":"line","color":"#f53c1e","strokeWidth":2.5,"clip":true},"encoding":{"y":{"field":"f","type":"quantitative","scale":{"domain":[-2.95,30.1],"nice":false,"zero":false},"axis":{"values":[0,10,20,30],"format":"d","title":null}}}},
{"data":{"values":[{"w":1908.1}]},"mark":{"type":"rule","color":"black","strokeWidth":1.6,"strokeDash":[6,4]},"encoding":{}}]},
{"title":"SiIII1892 - S/N =nan","width":185,"height":178,"view":{"stroke":"#00ff00"},"encoding":{"x":{"field":"w","type":"quantitative","scale":{"domain":[1905.35,1929.65],"nice":false,"zero":false},"axis":{"values":[1910,1920],"format":"d","title":null}}},"layer":[
{"data":{"values":[{"w":1905.35,"w2":1929.65}]},"mark":{"type":"rect","color":"#e4f0e4","clip":true},"encoding":{"x2":{"field":"w2"}}},
{"data":{"name":"d19"},"mark":{"type":"errorband","color":"#808080","opacity":0.45,"clip":true},"encoding":{"y":{"field":"f","type":"quantitative","scale":{"domain":[2.52,7.18],"nice":false,"zero":false},"axis":{"values":[4,6],"format":"d","title":null}},"yError":{"field":"e"}}},
{"data":{"name":"d19"},"mark":{"type":"line","color":"#5c5c5c","strokeWidth":1.5,"clip":true},"encoding":{"y":{"field":"f","type":"quantitative"}}},
{"data":{"name":"m19"},"mark":{"type":"errorband","color":"#ff6030","opacity":0.45,"clip":true},"encoding":{"y":{"field":"f","type":"quantitative"},"yError":{"field":"e"}}},
{"data":{"name":"m19"},"mark":{"type":"line","color":"#f53c1e","strokeWidth":2.5,"clip":true},"encoding":{"y":{"field":"f","type":"quantitative"}}},
{"data":{"values":[{"w":1917.5}]},"mark":{"type":"rule","color":"black","strokeWidth":1.6,"strokeDash":[6,4]},"encoding":{}}]},
{"title":"CIII1907 - S/N =4.0","width":185,"height":178,"view":{"stroke":"#228b22"},"encoding":{"x":{"field":"w","type":"quantitative","scale":{"domain":[1920.4,1944.6],"nice":false,"zero":false},"axis":{"values":[1930,1940],"format":"d","title":null}}},"layer":[
{"data":{"values":[{"w":1920.4,"w2":1944.6}]},"mark":{"type":"rect","color":"#e4f0e4","clip":true},"encoding":{"x2":{"field":"w2"}}},
{"data":{"name":"d19"},"mark":{"type":"errorband","color":"#808080","opacity":0.45,"clip":true},"encoding":{"y":{"field":"f","type":"quantitative","scale":{"domain":[-0.07,11.94],"nice":false,"zero":false},"axis":{"values":[5,10],"format":"d","title":null}},"yError":{"field":"e"}}},
{"data":{"name":"d19"},"mark":{"type":"line","color":"#5c5c5c","strokeWidth":1.5,"clip":true},"encoding":{"y":{"field":"f","type":"quantitative"}}},
{"data":{"name":"m19"},"mark":{"type":"errorband","color":"#ff6030","opacity":0.45,"clip":true},"encoding":{"y":{"field":"f","type":"quantitative"},"yError":{"field":"e"}}},
{"data":{"name":"m19"},"mark":{"type":"line","color":"#f53c1e","strokeWidth":2.5,"clip":true},"encoding":{"y":{"field":"f","type":"quantitative"}}},
{"data":{"values":[{"w":1932.4}]},"mark":{"type":"rule","color":"black","strokeWidth":1.6,"strokeDash":[6,4]},"encoding":{}}]},
{"title":"CIII1909 - S/N =7.0","width":185,"height":178,"view":{"stroke":"#228b22"},"encoding":{"x":{"field":"w","type":"quantitative","scale":{"domain":[1922.5,1946.6],"nice":false,"zero":false},"axis":{"values":[1930,1940],"format":"d","title":null}}},"layer":[
{"data":{"values":[{"w":1922.5,"w2":1946.6}]},"mark":{"type":"rect","color":"white","clip":true},"encoding":{"x2":{"field":"w2"}}},
{"data":{"values":[{"w":1922.5,"w2":1944.7}]},"mark":{"type":"rect","color":"#e4f0e4","clip":true},"encoding":{"x2":{"field":"w2"}}},
{"data":{"name":"d19"},"mark":{"type":"errorband","color":"#808080","opacity":0.45,"clip":true},"encoding":{"y":{"field":"f","type":"quantitative","scale":{"domain":[-0.07,11.94],"nice":false,"zero":false},"axis":{"values":[5,10],"format":"d","title":null}},"yError":{"field":"e"}}},
{"data":{"name":"d19"},"mark":{"type":"line","color":"#5c5c5c","strokeWidth":1.5,"clip":true},"encoding":{"y":{"field":"f","type":"quantitative"}}},
{"data":{"name":"m19"},"mark":{"type":"errorband","color":"#ff6030","opacity":0.45,"clip":true},"encoding":{"y":{"field":"f","type":"quantitative"},"yError":{"field":"e"}}},
{"data":{"name":"m19"},"mark":{"type":"line","color":"#f53c1e","strokeWidth":2.5,"clip":true},"encoding":{"y":{"field":"f","type":"quantitative"}}},
{"data":{"values":[{"w":1934.5}]},"mark":{"type":"rule","color":"black","strokeWidth":1.6,"strokeDash":[6,4]},"encoding":{}}]}
]}]}],
"config":{
"font":"DejaVu Serif",
"view":{"stroke":"#0000ff","strokeWidth":6},
"axis":{"labelFont":"DejaVu Serif","labelFontSize":19,"labelColor":"black","tickColor":"black","tickSize":5,"tickWidth":1.2,"domain":false,"grid":false,"labelPadding":3.5,"labelFlush":false,"labelOverlap":false},
"title":{"font":"DejaVu Serif","fontSize":15,"fontWeight":"normal","color":"black","offset":4.3,"frame":"group"}
}
}
